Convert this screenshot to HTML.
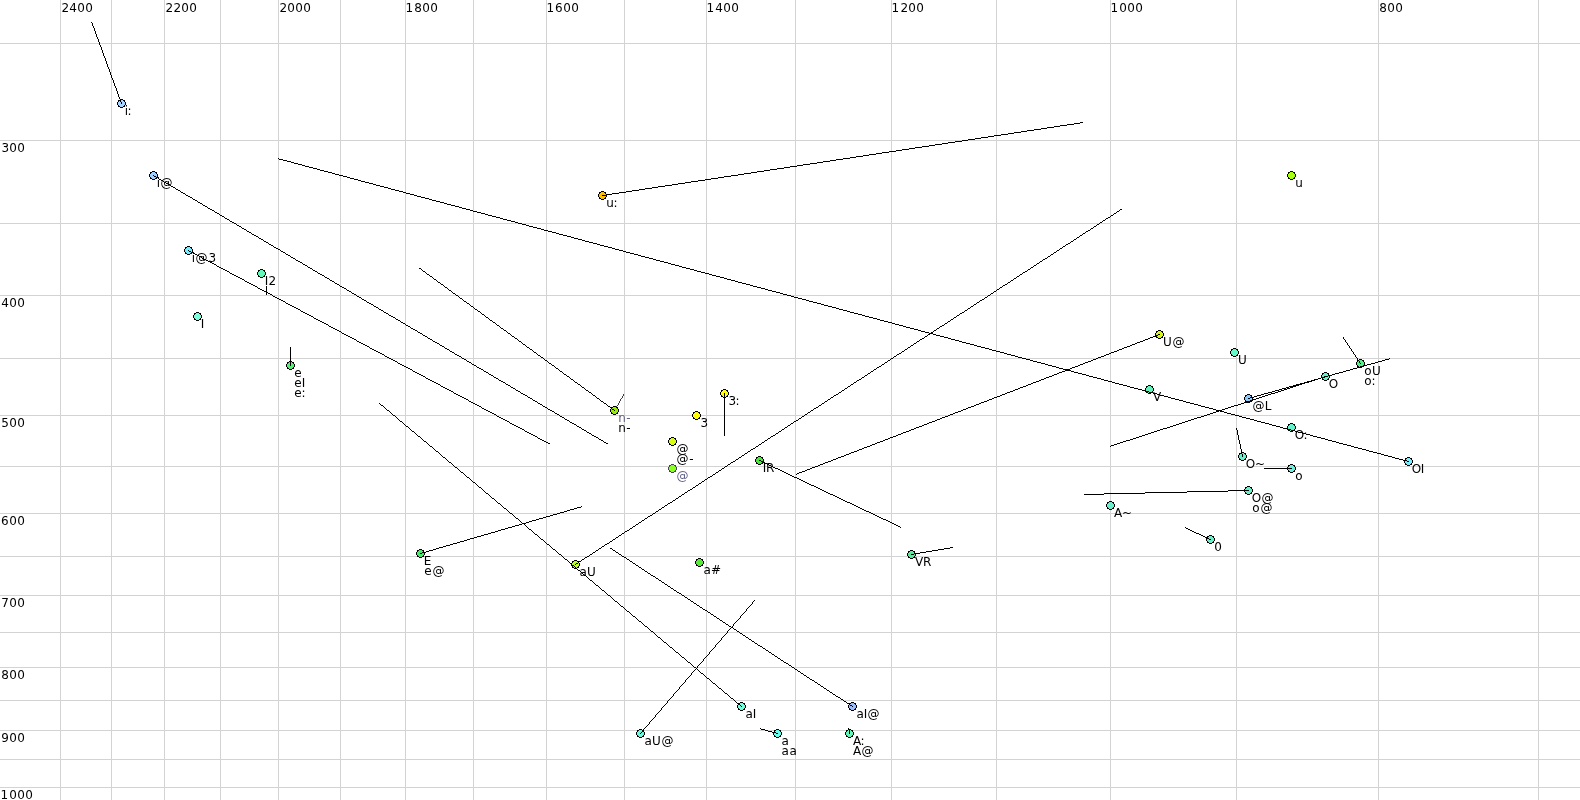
<!DOCTYPE html><html><head><meta charset="utf-8"><title>Vowel chart</title><style>html,body{margin:0;padding:0;background:#fff;overflow:hidden}svg{display:block;will-change:transform}text{font-family:"DejaVu Sans","Liberation Sans",sans-serif;font-size:12px}</style></head><body>
<svg width="1580" height="800" viewBox="0 0 1580 800">
<path shape-rendering="crispEdges" fill="#d3d3d3" d="M60 0h1v800h-1zM111 0h1v800h-1zM164 0h1v800h-1zM220 0h1v800h-1zM278 0h1v800h-1zM340 0h1v800h-1zM405 0h1v800h-1zM473 0h1v800h-1zM546 0h1v800h-1zM624 0h1v800h-1zM706 0h1v800h-1zM795 0h1v800h-1zM891 0h1v800h-1zM996 0h1v800h-1zM1110 0h1v800h-1zM1236 0h1v800h-1zM1378 0h1v800h-1zM1538 0h1v800h-1zM0 43h1580v1h-1580zM0 140h1580v1h-1580zM0 223h1580v1h-1580zM0 295h1580v1h-1580zM0 358h1580v1h-1580zM0 415h1580v1h-1580zM0 466h1580v1h-1580zM0 513h1580v1h-1580zM0 556h1580v1h-1580zM0 595h1580v1h-1580zM0 632h1580v1h-1580zM0 667h1580v1h-1580zM0 700h1580v1h-1580zM0 730h1580v1h-1580zM0 759h1580v1h-1580zM0 787h1580v1h-1580z"/>
<g shape-rendering="crispEdges">
<path fill="#404040" d="M615 409h1v1h-1zM619 401h1v1h-1zM620 399h1v1h-1zM623 394h1v1h-1zM618 404h1v1h-1zM622 397h1v1h-1zM615 408h1v1h-1zM617 405h1v1h-1zM619 402h1v1h-1zM621 398h1v1h-1zM623 395h1v1h-1zM614 410h1v1h-1zM616 407h1v1h-1zM618 403h1v1h-1zM620 400h1v1h-1zM622 396h1v1h-1zM616 406h1v1h-1z"/>
<g transform="translate(117 99)"><path fill="#a8d4ff" d="M3 1h3v1h-3zM2 2h5v1h-5zM1 3h7v3h-7zM2 6h5v1h-5zM3 7h3v1h-3z"/><path fill="#000" d="M3 0h3v1h-3zM1 1h2v1h-2zM6 1h2v1h-2zM1 2h1v1h-1zM7 2h1v1h-1zM0 3h1v3h-1zM8 3h1v3h-1zM1 6h1v1h-1zM7 6h1v1h-1zM1 7h2v1h-2zM6 7h2v1h-2zM3 8h3v1h-3z"/></g>
<g transform="translate(149 171)"><path fill="#a0d0ff" d="M3 1h3v1h-3zM2 2h5v1h-5zM1 3h7v3h-7zM2 6h5v1h-5zM3 7h3v1h-3z"/><path fill="#000" d="M3 0h3v1h-3zM1 1h2v1h-2zM6 1h2v1h-2zM1 2h1v1h-1zM7 2h1v1h-1zM0 3h1v3h-1zM8 3h1v3h-1zM1 6h1v1h-1zM7 6h1v1h-1zM1 7h2v1h-2zM6 7h2v1h-2zM3 8h3v1h-3z"/></g>
<g transform="translate(184 246)"><path fill="#77eeff" d="M3 1h3v1h-3zM2 2h5v1h-5zM1 3h7v3h-7zM2 6h5v1h-5zM3 7h3v1h-3z"/><path fill="#000" d="M3 0h3v1h-3zM1 1h2v1h-2zM6 1h2v1h-2zM1 2h1v1h-1zM7 2h1v1h-1zM0 3h1v3h-1zM8 3h1v3h-1zM1 6h1v1h-1zM7 6h1v1h-1zM1 7h2v1h-2zM6 7h2v1h-2zM3 8h3v1h-3z"/></g>
<g transform="translate(257 269)"><path fill="#66f8bb" d="M3 1h3v1h-3zM2 2h5v1h-5zM1 3h7v3h-7zM2 6h5v1h-5zM3 7h3v1h-3z"/><path fill="#000" d="M3 0h3v1h-3zM1 1h2v1h-2zM6 1h2v1h-2zM1 2h1v1h-1zM7 2h1v1h-1zM0 3h1v3h-1zM8 3h1v3h-1zM1 6h1v1h-1zM7 6h1v1h-1zM1 7h2v1h-2zM6 7h2v1h-2zM3 8h3v1h-3z"/></g>
<g transform="translate(193 312)"><path fill="#77ffdd" d="M3 1h3v1h-3zM2 2h5v1h-5zM1 3h7v3h-7zM2 6h5v1h-5zM3 7h3v1h-3z"/><path fill="#000" d="M3 0h3v1h-3zM1 1h2v1h-2zM6 1h2v1h-2zM1 2h1v1h-1zM7 2h1v1h-1zM0 3h1v3h-1zM8 3h1v3h-1zM1 6h1v1h-1zM7 6h1v1h-1zM1 7h2v1h-2zM6 7h2v1h-2zM3 8h3v1h-3z"/></g>
<g transform="translate(286 361)"><path fill="#55ee77" d="M3 1h3v1h-3zM2 2h5v1h-5zM1 3h7v3h-7zM2 6h5v1h-5zM3 7h3v1h-3z"/><path fill="#000" d="M3 0h3v1h-3zM1 1h2v1h-2zM6 1h2v1h-2zM1 2h1v1h-1zM7 2h1v1h-1zM0 3h1v3h-1zM8 3h1v3h-1zM1 6h1v1h-1zM7 6h1v1h-1zM1 7h2v1h-2zM6 7h2v1h-2zM3 8h3v1h-3z"/></g>
<g transform="translate(598 191)"><path fill="#ffc000" d="M3 1h3v1h-3zM2 2h5v1h-5zM1 3h7v3h-7zM2 6h5v1h-5zM3 7h3v1h-3z"/><path fill="#000" d="M3 0h3v1h-3zM1 1h2v1h-2zM6 1h2v1h-2zM1 2h1v1h-1zM7 2h1v1h-1zM0 3h1v3h-1zM8 3h1v3h-1zM1 6h1v1h-1zM7 6h1v1h-1zM1 7h2v1h-2zM6 7h2v1h-2zM3 8h3v1h-3z"/></g>
<g transform="translate(1287 171)"><path fill="#aaff11" d="M3 1h3v1h-3zM2 2h5v1h-5zM1 3h7v3h-7zM2 6h5v1h-5zM3 7h3v1h-3z"/><path fill="#000" d="M3 0h3v1h-3zM1 1h2v1h-2zM6 1h2v1h-2zM1 2h1v1h-1zM7 2h1v1h-1zM0 3h1v3h-1zM8 3h1v3h-1zM1 6h1v1h-1zM7 6h1v1h-1zM1 7h2v1h-2zM6 7h2v1h-2zM3 8h3v1h-3z"/></g>
<g transform="translate(610 406)"><path fill="#99ee00" d="M3 1h3v1h-3zM2 2h5v1h-5zM1 3h7v3h-7zM2 6h5v1h-5zM3 7h3v1h-3z"/><path fill="#000" d="M3 0h3v1h-3zM1 1h2v1h-2zM6 1h2v1h-2zM1 2h1v1h-1zM7 2h1v1h-1zM0 3h1v3h-1zM8 3h1v3h-1zM1 6h1v1h-1zM7 6h1v1h-1zM1 7h2v1h-2zM6 7h2v1h-2zM3 8h3v1h-3z"/></g>
<g transform="translate(720 389)"><path fill="#ffff00" d="M3 1h3v1h-3zM2 2h5v1h-5zM1 3h7v3h-7zM2 6h5v1h-5zM3 7h3v1h-3z"/><path fill="#000" d="M3 0h3v1h-3zM1 1h2v1h-2zM6 1h2v1h-2zM1 2h1v1h-1zM7 2h1v1h-1zM0 3h1v3h-1zM8 3h1v3h-1zM1 6h1v1h-1zM7 6h1v1h-1zM1 7h2v1h-2zM6 7h2v1h-2zM3 8h3v1h-3z"/></g>
<g transform="translate(692 411)"><path fill="#ffff00" d="M3 1h3v1h-3zM2 2h5v1h-5zM1 3h7v3h-7zM2 6h5v1h-5zM3 7h3v1h-3z"/><path fill="#000" d="M3 0h3v1h-3zM1 1h2v1h-2zM6 1h2v1h-2zM1 2h1v1h-1zM7 2h1v1h-1zM0 3h1v3h-1zM8 3h1v3h-1zM1 6h1v1h-1zM7 6h1v1h-1zM1 7h2v1h-2zM6 7h2v1h-2zM3 8h3v1h-3z"/></g>
<g transform="translate(668 437)"><path fill="#d8ff10" d="M3 1h3v1h-3zM2 2h5v1h-5zM1 3h7v3h-7zM2 6h5v1h-5zM3 7h3v1h-3z"/><path fill="#000" d="M3 0h3v1h-3zM1 1h2v1h-2zM6 1h2v1h-2zM1 2h1v1h-1zM7 2h1v1h-1zM0 3h1v3h-1zM8 3h1v3h-1zM1 6h1v1h-1zM7 6h1v1h-1zM1 7h2v1h-2zM6 7h2v1h-2zM3 8h3v1h-3z"/></g>
<g transform="translate(668 464)"><path fill="#8cff22" d="M3 1h3v1h-3zM2 2h5v1h-5zM1 3h7v3h-7zM2 6h5v1h-5zM3 7h3v1h-3z"/><path fill="#46425a" d="M3 0h3v1h-3zM1 1h2v1h-2zM6 1h2v1h-2zM1 2h1v1h-1zM7 2h1v1h-1zM0 3h1v3h-1zM8 3h1v3h-1zM1 6h1v1h-1zM7 6h1v1h-1zM1 7h2v1h-2zM6 7h2v1h-2zM3 8h3v1h-3z"/></g>
<g transform="translate(755 456)"><path fill="#44ee33" d="M3 1h3v1h-3zM2 2h5v1h-5zM1 3h7v3h-7zM2 6h5v1h-5zM3 7h3v1h-3z"/><path fill="#000" d="M3 0h3v1h-3zM1 1h2v1h-2zM6 1h2v1h-2zM1 2h1v1h-1zM7 2h1v1h-1zM0 3h1v3h-1zM8 3h1v3h-1zM1 6h1v1h-1zM7 6h1v1h-1zM1 7h2v1h-2zM6 7h2v1h-2zM3 8h3v1h-3z"/></g>
<g transform="translate(416 549)"><path fill="#44ee66" d="M3 1h3v1h-3zM2 2h5v1h-5zM1 3h7v3h-7zM2 6h5v1h-5zM3 7h3v1h-3z"/><path fill="#000" d="M3 0h3v1h-3zM1 1h2v1h-2zM6 1h2v1h-2zM1 2h1v1h-1zM7 2h1v1h-1zM0 3h1v3h-1zM8 3h1v3h-1zM1 6h1v1h-1zM7 6h1v1h-1zM1 7h2v1h-2zM6 7h2v1h-2zM3 8h3v1h-3z"/></g>
<g transform="translate(571 560)"><path fill="#bbff22" d="M3 1h3v1h-3zM2 2h5v1h-5zM1 3h7v3h-7zM2 6h5v1h-5zM3 7h3v1h-3z"/><path fill="#000" d="M3 0h3v1h-3zM1 1h2v1h-2zM6 1h2v1h-2zM1 2h1v1h-1zM7 2h1v1h-1zM0 3h1v3h-1zM8 3h1v3h-1zM1 6h1v1h-1zM7 6h1v1h-1zM1 7h2v1h-2zM6 7h2v1h-2zM3 8h3v1h-3z"/></g>
<g transform="translate(695 558)"><path fill="#55ee33" d="M3 1h3v1h-3zM2 2h5v1h-5zM1 3h7v3h-7zM2 6h5v1h-5zM3 7h3v1h-3z"/><path fill="#000" d="M3 0h3v1h-3zM1 1h2v1h-2zM6 1h2v1h-2zM1 2h1v1h-1zM7 2h1v1h-1zM0 3h1v3h-1zM8 3h1v3h-1zM1 6h1v1h-1zM7 6h1v1h-1zM1 7h2v1h-2zM6 7h2v1h-2zM3 8h3v1h-3z"/></g>
<g transform="translate(907 550)"><path fill="#55ee99" d="M3 1h3v1h-3zM2 2h5v1h-5zM1 3h7v3h-7zM2 6h5v1h-5zM3 7h3v1h-3z"/><path fill="#000" d="M3 0h3v1h-3zM1 1h2v1h-2zM6 1h2v1h-2zM1 2h1v1h-1zM7 2h1v1h-1zM0 3h1v3h-1zM8 3h1v3h-1zM1 6h1v1h-1zM7 6h1v1h-1zM1 7h2v1h-2zM6 7h2v1h-2zM3 8h3v1h-3z"/></g>
<g transform="translate(737 702)"><path fill="#6effdd" d="M3 1h3v1h-3zM2 2h5v1h-5zM1 3h7v3h-7zM2 6h5v1h-5zM3 7h3v1h-3z"/><path fill="#000" d="M3 0h3v1h-3zM1 1h2v1h-2zM6 1h2v1h-2zM1 2h1v1h-1zM7 2h1v1h-1zM0 3h1v3h-1zM8 3h1v3h-1zM1 6h1v1h-1zM7 6h1v1h-1zM1 7h2v1h-2zM6 7h2v1h-2zM3 8h3v1h-3z"/></g>
<g transform="translate(848 702)"><path fill="#99bbff" d="M3 1h3v1h-3zM2 2h5v1h-5zM1 3h7v3h-7zM2 6h5v1h-5zM3 7h3v1h-3z"/><path fill="#000" d="M3 0h3v1h-3zM1 1h2v1h-2zM6 1h2v1h-2zM1 2h1v1h-1zM7 2h1v1h-1zM0 3h1v3h-1zM8 3h1v3h-1zM1 6h1v1h-1zM7 6h1v1h-1zM1 7h2v1h-2zM6 7h2v1h-2zM3 8h3v1h-3z"/></g>
<g transform="translate(636 729)"><path fill="#6cf8dd" d="M3 1h3v1h-3zM2 2h5v1h-5zM1 3h7v3h-7zM2 6h5v1h-5zM3 7h3v1h-3z"/><path fill="#000" d="M3 0h3v1h-3zM1 1h2v1h-2zM6 1h2v1h-2zM1 2h1v1h-1zM7 2h1v1h-1zM0 3h1v3h-1zM8 3h1v3h-1zM1 6h1v1h-1zM7 6h1v1h-1zM1 7h2v1h-2zM6 7h2v1h-2zM3 8h3v1h-3z"/></g>
<g transform="translate(773 729)"><path fill="#6cffee" d="M3 1h3v1h-3zM2 2h5v1h-5zM1 3h7v3h-7zM2 6h5v1h-5zM3 7h3v1h-3z"/><path fill="#000" d="M3 0h3v1h-3zM1 1h2v1h-2zM6 1h2v1h-2zM1 2h1v1h-1zM7 2h1v1h-1zM0 3h1v3h-1zM8 3h1v3h-1zM1 6h1v1h-1zM7 6h1v1h-1zM1 7h2v1h-2zM6 7h2v1h-2zM3 8h3v1h-3z"/></g>
<g transform="translate(845 729)"><path fill="#66f4b8" d="M3 1h3v1h-3zM2 2h5v1h-5zM1 3h7v3h-7zM2 6h5v1h-5zM3 7h3v1h-3z"/><path fill="#000" d="M3 0h3v1h-3zM1 1h2v1h-2zM6 1h2v1h-2zM1 2h1v1h-1zM7 2h1v1h-1zM0 3h1v3h-1zM8 3h1v3h-1zM1 6h1v1h-1zM7 6h1v1h-1zM1 7h2v1h-2zM6 7h2v1h-2zM3 8h3v1h-3z"/></g>
<g transform="translate(1155 330)"><path fill="#ddf810" d="M3 1h3v1h-3zM2 2h5v1h-5zM1 3h7v3h-7zM2 6h5v1h-5zM3 7h3v1h-3z"/><path fill="#000" d="M3 0h3v1h-3zM1 1h2v1h-2zM6 1h2v1h-2zM1 2h1v1h-1zM7 2h1v1h-1zM0 3h1v3h-1zM8 3h1v3h-1zM1 6h1v1h-1zM7 6h1v1h-1zM1 7h2v1h-2zM6 7h2v1h-2zM3 8h3v1h-3z"/></g>
<g transform="translate(1230 348)"><path fill="#66f8c8" d="M3 1h3v1h-3zM2 2h5v1h-5zM1 3h7v3h-7zM2 6h5v1h-5zM3 7h3v1h-3z"/><path fill="#000" d="M3 0h3v1h-3zM1 1h2v1h-2zM6 1h2v1h-2zM1 2h1v1h-1zM7 2h1v1h-1zM0 3h1v3h-1zM8 3h1v3h-1zM1 6h1v1h-1zM7 6h1v1h-1zM1 7h2v1h-2zM6 7h2v1h-2zM3 8h3v1h-3z"/></g>
<g transform="translate(1145 385)"><path fill="#66f0bb" d="M3 1h3v1h-3zM2 2h5v1h-5zM1 3h7v3h-7zM2 6h5v1h-5zM3 7h3v1h-3z"/><path fill="#000" d="M3 0h3v1h-3zM1 1h2v1h-2zM6 1h2v1h-2zM1 2h1v1h-1zM7 2h1v1h-1zM0 3h1v3h-1zM8 3h1v3h-1zM1 6h1v1h-1zM7 6h1v1h-1zM1 7h2v1h-2zM6 7h2v1h-2zM3 8h3v1h-3z"/></g>
<g transform="translate(1244 394)"><path fill="#88ccff" d="M3 1h3v1h-3zM2 2h5v1h-5zM1 3h7v3h-7zM2 6h5v1h-5zM3 7h3v1h-3z"/><path fill="#000" d="M3 0h3v1h-3zM1 1h2v1h-2zM6 1h2v1h-2zM1 2h1v1h-1zM7 2h1v1h-1zM0 3h1v3h-1zM8 3h1v3h-1zM1 6h1v1h-1zM7 6h1v1h-1zM1 7h2v1h-2zM6 7h2v1h-2zM3 8h3v1h-3z"/></g>
<g transform="translate(1321 372)"><path fill="#66f0cc" d="M3 1h3v1h-3zM2 2h5v1h-5zM1 3h7v3h-7zM2 6h5v1h-5zM3 7h3v1h-3z"/><path fill="#000" d="M3 0h3v1h-3zM1 1h2v1h-2zM6 1h2v1h-2zM1 2h1v1h-1zM7 2h1v1h-1zM0 3h1v3h-1zM8 3h1v3h-1zM1 6h1v1h-1zM7 6h1v1h-1zM1 7h2v1h-2zM6 7h2v1h-2zM3 8h3v1h-3z"/></g>
<g transform="translate(1356 359)"><path fill="#55ee88" d="M3 1h3v1h-3zM2 2h5v1h-5zM1 3h7v3h-7zM2 6h5v1h-5zM3 7h3v1h-3z"/><path fill="#000" d="M3 0h3v1h-3zM1 1h2v1h-2zM6 1h2v1h-2zM1 2h1v1h-1zM7 2h1v1h-1zM0 3h1v3h-1zM8 3h1v3h-1zM1 6h1v1h-1zM7 6h1v1h-1zM1 7h2v1h-2zM6 7h2v1h-2zM3 8h3v1h-3z"/></g>
<g transform="translate(1287 423)"><path fill="#66f0cc" d="M3 1h3v1h-3zM2 2h5v1h-5zM1 3h7v3h-7zM2 6h5v1h-5zM3 7h3v1h-3z"/><path fill="#000" d="M3 0h3v1h-3zM1 1h2v1h-2zM6 1h2v1h-2zM1 2h1v1h-1zM7 2h1v1h-1zM0 3h1v3h-1zM8 3h1v3h-1zM1 6h1v1h-1zM7 6h1v1h-1zM1 7h2v1h-2zM6 7h2v1h-2zM3 8h3v1h-3z"/></g>
<g transform="translate(1404 457)"><path fill="#77eeff" d="M3 1h3v1h-3zM2 2h5v1h-5zM1 3h7v3h-7zM2 6h5v1h-5zM3 7h3v1h-3z"/><path fill="#000" d="M3 0h3v1h-3zM1 1h2v1h-2zM6 1h2v1h-2zM1 2h1v1h-1zM7 2h1v1h-1zM0 3h1v3h-1zM8 3h1v3h-1zM1 6h1v1h-1zM7 6h1v1h-1zM1 7h2v1h-2zM6 7h2v1h-2zM3 8h3v1h-3z"/></g>
<g transform="translate(1238 452)"><path fill="#66f0cc" d="M3 1h3v1h-3zM2 2h5v1h-5zM1 3h7v3h-7zM2 6h5v1h-5zM3 7h3v1h-3z"/><path fill="#000" d="M3 0h3v1h-3zM1 1h2v1h-2zM6 1h2v1h-2zM1 2h1v1h-1zM7 2h1v1h-1zM0 3h1v3h-1zM8 3h1v3h-1zM1 6h1v1h-1zM7 6h1v1h-1zM1 7h2v1h-2zM6 7h2v1h-2zM3 8h3v1h-3z"/></g>
<g transform="translate(1287 464)"><path fill="#66f0dd" d="M3 1h3v1h-3zM2 2h5v1h-5zM1 3h7v3h-7zM2 6h5v1h-5zM3 7h3v1h-3z"/><path fill="#000" d="M3 0h3v1h-3zM1 1h2v1h-2zM6 1h2v1h-2zM1 2h1v1h-1zM7 2h1v1h-1zM0 3h1v3h-1zM8 3h1v3h-1zM1 6h1v1h-1zM7 6h1v1h-1zM1 7h2v1h-2zM6 7h2v1h-2zM3 8h3v1h-3z"/></g>
<g transform="translate(1106 501)"><path fill="#66f0cc" d="M3 1h3v1h-3zM2 2h5v1h-5zM1 3h7v3h-7zM2 6h5v1h-5zM3 7h3v1h-3z"/><path fill="#000" d="M3 0h3v1h-3zM1 1h2v1h-2zM6 1h2v1h-2zM1 2h1v1h-1zM7 2h1v1h-1zM0 3h1v3h-1zM8 3h1v3h-1zM1 6h1v1h-1zM7 6h1v1h-1zM1 7h2v1h-2zM6 7h2v1h-2zM3 8h3v1h-3z"/></g>
<g transform="translate(1244 486)"><path fill="#66f0cc" d="M3 1h3v1h-3zM2 2h5v1h-5zM1 3h7v3h-7zM2 6h5v1h-5zM3 7h3v1h-3z"/><path fill="#000" d="M3 0h3v1h-3zM1 1h2v1h-2zM6 1h2v1h-2zM1 2h1v1h-1zM7 2h1v1h-1zM0 3h1v3h-1zM8 3h1v3h-1zM1 6h1v1h-1zM7 6h1v1h-1zM1 7h2v1h-2zM6 7h2v1h-2zM3 8h3v1h-3z"/></g>
<g transform="translate(1206 535)"><path fill="#66f0cc" d="M3 1h3v1h-3zM2 2h5v1h-5zM1 3h7v3h-7zM2 6h5v1h-5zM3 7h3v1h-3z"/><path fill="#000" d="M3 0h3v1h-3zM1 1h2v1h-2zM6 1h2v1h-2zM1 2h1v1h-1zM7 2h1v1h-1zM0 3h1v3h-1zM8 3h1v3h-1zM1 6h1v1h-1zM7 6h1v1h-1zM1 7h2v1h-2zM6 7h2v1h-2zM3 8h3v1h-3z"/></g>
<path fill="#000" d="M118 95h1v1h-1zM115 87h1v1h-1zM121 103h1v1h-1zM92 24h1v1h-1zM97 38h1v1h-1zM103 54h1v1h-1zM94 30h1v1h-1zM100 46h1v1h-1zM98 39h1v1h-1zM111 76h1v1h-1zM117 92h1v1h-1zM108 68h1v1h-1zM119 98h1v1h-1zM106 61h1v1h-1zM96 35h1v1h-1zM98 41h1v1h-1zM120 99h1v1h-1zM104 57h1v1h-1zM106 63h1v1h-1zM112 79h1v1h-1zM102 50h1v1h-1zM99 42h1v1h-1zM105 58h1v1h-1zM110 72h1v1h-1zM101 48h1v1h-1zM91 22h1v1h-1zM120 101h1v1h-1zM116 88h1v1h-1zM113 80h1v1h-1zM118 94h1v1h-1zM102 52h1v1h-1zM115 86h1v1h-1zM99 44h1v1h-1zM105 60h1v1h-1zM110 74h1v1h-1zM95 31h1v1h-1zM92 23h1v1h-1zM97 37h1v1h-1zM103 53h1v1h-1zM116 90h1v1h-1zM113 82h1v1h-1zM118 96h1v1h-1zM109 69h1v1h-1zM114 83h1v1h-1zM111 75h1v1h-1zM117 91h1v1h-1zM95 33h1v1h-1zM92 25h1v1h-1zM103 55h1v1h-1zM93 26h1v1h-1zM96 34h1v1h-1zM109 71h1v1h-1zM114 85h1v1h-1zM111 77h1v1h-1zM117 93h1v1h-1zM107 64h1v1h-1zM104 56h1v1h-1zM121 102h1v1h-1zM107 66h1v1h-1zM94 29h1v1h-1zM100 45h1v1h-1zM102 51h1v1h-1zM108 67h1v1h-1zM119 97h1v1h-1zM116 89h1v1h-1zM98 40h1v1h-1zM95 32h1v1h-1zM106 62h1v1h-1zM112 78h1v1h-1zM96 36h1v1h-1zM109 70h1v1h-1zM114 84h1v1h-1zM101 47h1v1h-1zM93 27h1v1h-1zM120 100h1v1h-1zM99 43h1v1h-1zM105 59h1v1h-1zM110 73h1v1h-1zM101 49h1v1h-1zM107 65h1v1h-1zM94 28h1v1h-1zM113 81h1v1h-1zM256 236h2v1h-2zM543 406h2v1h-2zM185 194h1v1h-1zM472 364h2v1h-2zM401 322h2v1h-2zM330 280h2v1h-2zM259 238h2v1h-2zM188 196h2v1h-2zM579 427h2v1h-2zM508 385h2v1h-2zM437 343h2v1h-2zM430 339h2v1h-2zM359 297h2v1h-2zM252 234h2v1h-2zM288 255h2v1h-2zM181 192h2v1h-2zM217 213h2v1h-2zM581 428h1v1h-1zM510 386h1v1h-1zM439 344h1v1h-1zM367 302h2v1h-2zM296 260h2v1h-2zM225 218h2v1h-2zM154 176h2v1h-2zM572 423h2v1h-2zM501 381h2v1h-2zM565 419h2v1h-2zM494 377h2v1h-2zM423 335h2v1h-2zM352 293h2v1h-2zM576 425h1v1h-1zM281 251h2v1h-2zM505 383h1v1h-1zM210 209h2v1h-2zM433 341h2v1h-2zM362 299h2v1h-2zM291 257h2v1h-2zM538 403h2v1h-2zM220 215h2v1h-2zM467 361h2v1h-2zM396 319h2v1h-2zM325 277h2v1h-2zM254 235h2v1h-2zM183 193h2v1h-2zM569 421h1v1h-1zM498 379h1v1h-1zM427 337h1v1h-1zM356 295h1v1h-1zM285 253h1v1h-1zM214 211h1v1h-1zM606 443h2v1h-2zM535 401h2v1h-2zM464 359h2v1h-2zM393 317h2v1h-2zM322 275h2v1h-2zM251 233h1v1h-1zM180 191h1v1h-1zM384 312h2v1h-2zM313 270h2v1h-2zM242 228h2v1h-2zM171 186h2v1h-2zM173 187h2v1h-2zM389 315h2v1h-2zM318 273h2v1h-2zM247 231h2v1h-2zM176 189h2v1h-2zM594 436h2v1h-2zM523 394h2v1h-2zM452 352h2v1h-2zM381 310h2v1h-2zM310 268h2v1h-2zM239 226h2v1h-2zM168 184h2v1h-2zM567 420h2v1h-2zM496 378h2v1h-2zM425 336h2v1h-2zM354 294h2v1h-2zM283 252h2v1h-2zM212 210h2v1h-2zM205 206h2v1h-2zM598 438h1v1h-1zM527 396h1v1h-1zM455 354h2v1h-2zM560 416h2v1h-2zM489 374h2v1h-2zM418 332h2v1h-2zM164 182h2v1h-2zM347 290h2v1h-2zM276 248h2v1h-2zM340 286h2v1h-2zM564 418h1v1h-1zM269 244h2v1h-2zM493 376h1v1h-1zM198 202h2v1h-2zM422 334h1v1h-1zM351 292h1v1h-1zM280 250h1v1h-1zM208 208h2v1h-2zM557 414h2v1h-2zM486 372h2v1h-2zM415 330h2v1h-2zM344 288h2v1h-2zM273 246h1v1h-1zM202 204h1v1h-1zM601 440h2v1h-2zM530 398h2v1h-2zM459 356h2v1h-2zM552 411h2v1h-2zM596 437h2v1h-2zM525 395h2v1h-2zM411 328h2v1h-2zM159 179h2v1h-2zM589 433h2v1h-2zM518 391h2v1h-2zM582 429h2v1h-2zM447 349h2v1h-2zM511 387h2v1h-2zM376 307h2v1h-2zM440 345h2v1h-2zM305 265h2v1h-2zM369 303h2v1h-2zM234 223h2v1h-2zM298 261h2v1h-2zM227 219h2v1h-2zM156 177h2v1h-2zM555 413h2v1h-2zM484 371h2v1h-2zM413 329h2v1h-2zM342 287h2v1h-2zM271 245h2v1h-2zM200 203h2v1h-2zM586 431h1v1h-1zM515 389h1v1h-1zM444 347h1v1h-1zM373 305h1v1h-1zM302 263h1v1h-1zM230 221h2v1h-2zM477 367h2v1h-2zM406 325h2v1h-2zM335 283h2v1h-2zM264 241h2v1h-2zM193 199h2v1h-2zM481 369h2v1h-2zM545 407h2v1h-2zM474 365h2v1h-2zM403 323h2v1h-2zM332 281h2v1h-2zM261 239h2v1h-2zM190 197h2v1h-2zM540 404h2v1h-2zM469 362h2v1h-2zM398 320h2v1h-2zM584 430h2v1h-2zM513 388h2v1h-2zM442 346h2v1h-2zM371 304h2v1h-2zM300 262h2v1h-2zM186 195h2v1h-2zM577 426h2v1h-2zM506 384h2v1h-2zM570 422h2v1h-2zM435 342h2v1h-2zM499 380h2v1h-2zM364 300h2v1h-2zM428 338h2v1h-2zM293 258h2v1h-2zM357 296h2v1h-2zM222 216h2v1h-2zM286 254h2v1h-2zM215 212h2v1h-2zM574 424h2v1h-2zM503 382h2v1h-2zM432 340h1v1h-1zM361 298h1v1h-1zM290 256h1v1h-1zM219 214h1v1h-1zM324 276h1v1h-1zM603 441h1v1h-1zM532 399h1v1h-1zM461 357h1v1h-1zM604 442h2v1h-2zM533 400h2v1h-2zM462 358h2v1h-2zM327 278h2v1h-2zM391 316h2v1h-2zM320 274h2v1h-2zM249 232h2v1h-2zM178 190h2v1h-2zM599 439h2v1h-2zM528 397h2v1h-2zM457 355h2v1h-2zM386 313h2v1h-2zM315 271h2v1h-2zM244 229h2v1h-2zM274 247h2v1h-2zM203 205h2v1h-2zM562 417h2v1h-2zM491 375h2v1h-2zM420 333h2v1h-2zM349 291h2v1h-2zM278 249h2v1h-2zM207 207h1v1h-1zM170 185h1v1h-1zM520 392h1v1h-1zM449 350h1v1h-1zM378 308h1v1h-1zM307 266h1v1h-1zM236 224h1v1h-1zM592 435h2v1h-2zM521 393h2v1h-2zM450 351h2v1h-2zM379 309h2v1h-2zM308 267h2v1h-2zM237 225h2v1h-2zM166 183h2v1h-2zM587 432h2v1h-2zM516 390h2v1h-2zM445 348h2v1h-2zM374 306h2v1h-2zM303 264h2v1h-2zM232 222h2v1h-2zM161 180h2v1h-2zM591 434h1v1h-1zM554 412h1v1h-1zM483 370h1v1h-1zM548 409h2v1h-2zM550 410h2v1h-2zM479 368h2v1h-2zM408 326h2v1h-2zM337 284h2v1h-2zM266 242h2v1h-2zM195 200h2v1h-2zM295 259h1v1h-1zM224 217h1v1h-1zM153 175h1v1h-1zM366 301h1v1h-1zM542 405h1v1h-1zM471 363h1v1h-1zM400 321h1v1h-1zM329 279h1v1h-1zM258 237h1v1h-1zM537 402h1v1h-1zM466 360h1v1h-1zM395 318h1v1h-1zM388 314h1v1h-1zM317 272h1v1h-1zM246 230h1v1h-1zM175 188h1v1h-1zM454 353h1v1h-1zM383 311h1v1h-1zM312 269h1v1h-1zM241 227h1v1h-1zM559 415h1v1h-1zM488 373h1v1h-1zM417 331h1v1h-1zM346 289h1v1h-1zM410 327h1v1h-1zM339 285h1v1h-1zM268 243h1v1h-1zM197 201h1v1h-1zM163 181h1v1h-1zM229 220h1v1h-1zM158 178h1v1h-1zM547 408h1v1h-1zM476 366h1v1h-1zM405 324h1v1h-1zM334 282h1v1h-1zM263 240h1v1h-1zM192 198h1v1h-1zM490 412h2v1h-2zM305 313h2v1h-2zM298 309h2v1h-2zM501 418h2v1h-2zM247 282h2v1h-2zM432 381h2v1h-2zM238 277h2v1h-2zM434 382h2v1h-2zM426 378h2v1h-2zM242 279h2v1h-2zM486 410h2v1h-2zM301 311h2v1h-2zM436 383h2v1h-2zM428 379h2v1h-2zM234 275h2v1h-2zM227 271h2v1h-2zM361 343h2v1h-2zM482 408h2v1h-2zM548 443h2v1h-2zM415 372h2v1h-2zM230 273h2v1h-2zM223 269h2v1h-2zM365 345h2v1h-2zM357 341h2v1h-2zM350 337h2v1h-2zM492 413h2v1h-2zM410 369h2v1h-2zM484 409h2v1h-2zM402 365h2v1h-2zM544 441h2v1h-2zM290 305h2v1h-2zM537 437h1v1h-1zM546 442h2v1h-2zM538 438h2v1h-2zM354 339h2v1h-2zM477 405h2v1h-2zM488 411h2v1h-2zM406 367h2v1h-2zM540 439h2v1h-2zM286 303h2v1h-2zM533 435h2v1h-2zM279 299h2v1h-2zM421 375h2v1h-2zM339 331h2v1h-2zM413 371h2v1h-2zM331 327h2v1h-2zM473 403h2v1h-2zM466 399h2v1h-2zM283 301h2v1h-2zM275 297h2v1h-2zM214 264h2v1h-2zM417 373h2v1h-2zM335 329h2v1h-2zM469 401h2v1h-2zM216 265h1v1h-1zM462 397h2v1h-2zM208 261h2v1h-2zM454 393h2v1h-2zM268 293h2v1h-2zM342 333h2v1h-2zM260 289h2v1h-2zM395 361h2v1h-2zM210 262h2v1h-2zM202 258h2v1h-2zM337 330h2v1h-2zM212 263h2v1h-2zM458 395h2v1h-2zM204 259h2v1h-2zM389 358h2v1h-2zM346 335h2v1h-2zM264 291h2v1h-2zM398 363h2v1h-2zM391 359h2v1h-2zM525 431h2v1h-2zM518 427h2v1h-2zM189 251h2v1h-2zM333 328h2v1h-2zM393 360h2v1h-2zM520 428h2v1h-2zM266 292h2v1h-2zM387 357h2v1h-2zM326 324h2v1h-2zM318 320h2v1h-2zM522 429h2v1h-2zM193 253h2v1h-2zM514 425h2v1h-2zM320 321h2v1h-2zM505 420h2v1h-2zM447 389h2v1h-2zM270 294h2v1h-2zM262 290h2v1h-2zM255 286h2v1h-2zM499 417h2v1h-2zM322 322h2v1h-2zM314 318h2v1h-2zM307 314h2v1h-2zM510 423h2v1h-2zM449 390h2v1h-2zM195 254h2v1h-2zM441 386h2v1h-2zM316 319h2v1h-2zM494 414h2v1h-2zM451 391h2v1h-2zM443 387h2v1h-2zM258 288h2v1h-2zM382 354h2v1h-2zM503 419h2v1h-2zM199 256h2v1h-2zM445 388h2v1h-2zM191 252h2v1h-2zM438 384h2v1h-2zM251 284h2v1h-2zM497 416h2v1h-2zM244 280h1v1h-1zM236 276h2v1h-2zM378 352h2v1h-2zM370 348h2v1h-2zM430 380h2v1h-2zM423 376h2v1h-2zM188 250h1v1h-1zM240 278h2v1h-2zM232 274h2v1h-2zM374 350h2v1h-2zM367 346h2v1h-2zM359 342h2v1h-2zM419 374h2v1h-2zM300 310h1v1h-1zM352 338h2v1h-2zM363 344h2v1h-2zM294 307h2v1h-2zM303 312h2v1h-2zM296 308h2v1h-2zM542 440h2v1h-2zM288 304h2v1h-2zM356 340h1v1h-1zM348 336h2v1h-2zM475 404h2v1h-2zM281 300h2v1h-2zM292 306h2v1h-2zM344 334h2v1h-2zM479 406h2v1h-2zM225 270h2v1h-2zM471 402h2v1h-2zM217 266h2v1h-2zM285 302h1v1h-1zM277 298h2v1h-2zM412 370h1v1h-1zM404 366h2v1h-2zM219 267h2v1h-2zM221 268h2v1h-2zM527 432h2v1h-2zM273 296h2v1h-2zM408 368h2v1h-2zM400 364h2v1h-2zM535 436h2v1h-2zM385 356h2v1h-2zM529 433h2v1h-2zM456 394h2v1h-2zM531 434h2v1h-2zM329 326h2v1h-2zM197 255h2v1h-2zM272 295h1v1h-1zM516 426h2v1h-2zM324 323h2v1h-2zM460 396h2v1h-2zM512 424h2v1h-2zM328 325h1v1h-1zM201 257h1v1h-1zM507 421h2v1h-2zM253 285h2v1h-2zM440 385h1v1h-1zM257 287h1v1h-1zM249 283h2v1h-2zM384 355h1v1h-1zM376 351h2v1h-2zM245 281h2v1h-2zM369 347h1v1h-1zM380 353h2v1h-2zM372 349h2v1h-2zM311 316h2v1h-2zM313 317h1v1h-1zM309 315h2v1h-2zM496 415h1v1h-1zM229 272h1v1h-1zM481 407h1v1h-1zM425 377h1v1h-1zM206 260h2v1h-2zM341 332h1v1h-1zM468 400h1v1h-1zM464 398h2v1h-2zM524 430h1v1h-1zM397 362h1v1h-1zM453 392h1v1h-1zM509 422h1v1h-1zM266 294h1v1h-1zM266 287h1v1h-1zM266 293h1v1h-1zM266 290h1v1h-1zM266 286h1v1h-1zM266 289h1v1h-1zM266 292h1v1h-1zM266 291h1v1h-1zM266 288h1v1h-1zM290 347h1v1h-1zM290 350h1v1h-1zM290 353h1v1h-1zM290 359h1v1h-1zM290 356h1v1h-1zM290 362h1v1h-1zM290 365h1v1h-1zM290 352h1v1h-1zM290 349h1v1h-1zM290 355h1v1h-1zM290 358h1v1h-1zM290 364h1v1h-1zM290 361h1v1h-1zM290 348h1v1h-1zM290 354h1v1h-1zM290 351h1v1h-1zM290 357h1v1h-1zM290 360h1v1h-1zM290 363h1v1h-1zM563 235h4v1h-4zM1171 398h4v1h-4zM313 168h4v1h-4zM373 184h3v1h-3zM974 345h3v1h-3zM716 276h4v1h-4zM944 337h4v1h-4zM466 209h4v1h-4zM1317 437h4v1h-4zM1059 368h4v1h-4zM1287 429h4v1h-4zM809 301h4v1h-4zM488 215h4v1h-4zM544 230h4v1h-4zM1153 393h4v1h-4zM604 246h4v1h-4zM832 307h4v1h-4zM287 161h4v1h-4zM354 179h4v1h-4zM948 338h3v1h-3zM1175 399h4v1h-4zM697 271h4v1h-4zM925 332h4v1h-4zM1291 430h4v1h-4zM440 202h4v1h-4zM1041 363h4v1h-4zM1269 424h3v1h-3zM720 277h4v1h-4zM403 192h3v1h-3zM1384 455h4v1h-4zM1063 369h4v1h-4zM518 223h4v1h-4zM585 241h4v1h-4zM813 302h4v1h-4zM1194 404h4v1h-4zM328 172h4v1h-4zM929 333h4v1h-4zM1157 394h3v1h-3zM1407 461h2v1h-2zM291 162h3v1h-3zM899 325h4v1h-4zM421 197h4v1h-4zM1272 425h4v1h-4zM951 339h4v1h-4zM634 254h4v1h-4zM1242 417h4v1h-4zM384 187h4v1h-4zM765 289h3v1h-3zM444 203h3v1h-3zM1045 364h3v1h-3zM1108 381h4v1h-4zM559 234h4v1h-4zM787 295h4v1h-4zM309 167h4v1h-4zM537 228h4v1h-4zM1388 456h4v1h-4zM1130 387h4v1h-4zM653 259h3v1h-3zM880 320h4v1h-4zM615 249h4v1h-4zM996 351h4v1h-4zM1224 412h3v1h-3zM675 265h4v1h-4zM358 180h3v1h-3zM425 198h4v1h-4zM1339 443h4v1h-4zM1018 357h4v1h-4zM541 229h3v1h-3zM768 290h4v1h-4zM1362 449h4v1h-4zM511 221h4v1h-4zM884 321h4v1h-4zM1112 382h3v1h-3zM1227 413h4v1h-4zM906 327h4v1h-4zM589 242h4v1h-4zM656 260h4v1h-4zM339 175h4v1h-4zM1265 423h4v1h-4zM399 191h4v1h-4zM1000 352h4v1h-4zM970 344h4v1h-4zM492 216h4v1h-4zM1343 444h4v1h-4zM705 273h4v1h-4zM1313 436h4v1h-4zM836 308h3v1h-3zM515 222h3v1h-3zM1179 400h4v1h-4zM630 253h4v1h-4zM858 314h4v1h-4zM380 186h4v1h-4zM608 247h4v1h-4zM1201 406h4v1h-4zM724 278h3v1h-3zM686 268h4v1h-4zM1067 370h4v1h-4zM1295 431h3v1h-3zM746 284h4v1h-4zM429 199h3v1h-3zM496 217h4v1h-4zM1160 395h4v1h-4zM1089 376h4v1h-4zM612 248h3v1h-3zM839 309h4v1h-4zM294 163h4v1h-4zM1220 411h4v1h-4zM955 340h4v1h-4zM1183 401h3v1h-3zM317 169h3v1h-3zM1298 432h4v1h-4zM447 204h4v1h-4zM1048 365h4v1h-4zM977 346h4v1h-4zM660 261h4v1h-4zM727 279h4v1h-4zM791 296h3v1h-3zM1392 457h3v1h-3zM470 210h3v1h-3zM1071 371h3v1h-3zM1134 388h4v1h-4zM335 174h4v1h-4zM298 164h4v1h-4zM679 266h3v1h-3zM641 256h4v1h-4zM1022 358h4v1h-4zM1250 419h4v1h-4zM701 272h4v1h-4zM451 205h4v1h-4zM567 236h4v1h-4zM794 297h4v1h-4zM910 328h4v1h-4zM1138 389h4v1h-4zM1231 414h4v1h-4zM682 267h4v1h-4zM1026 359h4v1h-4zM548 231h4v1h-4zM1369 451h4v1h-4zM1119 384h4v1h-4zM731 280h4v1h-4zM862 315h3v1h-3zM1205 407h4v1h-4zM406 193h4v1h-4zM369 183h4v1h-4zM750 285h3v1h-3zM500 218h3v1h-3zM712 275h4v1h-4zM1093 377h4v1h-4zM843 310h4v1h-4zM772 291h4v1h-4zM1321 438h4v1h-4zM522 224h4v1h-4zM1186 402h4v1h-4zM638 255h3v1h-3zM865 316h4v1h-4zM1246 418h4v1h-4zM981 347h4v1h-4zM1209 408h4v1h-4zM343 176h4v1h-4zM410 194h4v1h-4zM473 211h4v1h-4zM1074 372h4v1h-4zM1302 433h4v1h-4zM753 286h4v1h-4zM817 303h4v1h-4zM1097 378h4v1h-4zM619 250h4v1h-4zM361 181h4v1h-4zM962 342h4v1h-4zM1190 403h4v1h-4zM324 171h4v1h-4zM455 206h4v1h-4zM933 334h3v1h-3zM1276 426h4v1h-4zM477 212h4v1h-4zM593 243h4v1h-4zM821 304h3v1h-3zM571 237h3v1h-3zM936 335h4v1h-4zM1164 396h4v1h-4zM914 329h4v1h-4zM365 182h4v1h-4zM1257 421h4v1h-4zM709 274h3v1h-3zM1052 366h4v1h-4zM574 238h4v1h-4zM802 299h4v1h-4zM414 195h3v1h-3zM1395 458h4v1h-4zM1145 391h4v1h-4zM279 159h4v1h-4zM888 322h4v1h-4zM690 269h4v1h-4zM432 200h4v1h-4zM1033 361h4v1h-4zM395 190h4v1h-4zM776 292h4v1h-4zM526 225h3v1h-3zM1004 353h3v1h-3zM738 282h4v1h-4zM1347 445h4v1h-4zM869 317h4v1h-4zM320 170h4v1h-4zM1213 409h3v1h-3zM664 262h4v1h-4zM892 323h3v1h-3zM1007 354h4v1h-4zM1235 415h4v1h-4zM757 287h4v1h-4zM985 348h4v1h-4zM436 201h4v1h-4zM1101 379h3v1h-3zM780 293h3v1h-3zM302 165h3v1h-3zM1123 385h4v1h-4zM645 257h4v1h-4zM873 318h4v1h-4zM1254 420h3v1h-3zM388 188h3v1h-3zM1216 410h4v1h-4zM350 178h4v1h-4zM959 341h3v1h-3zM761 288h4v1h-4zM503 219h4v1h-4zM1104 380h4v1h-4zM847 311h3v1h-3zM597 244h3v1h-3zM940 336h4v1h-4zM391 189h4v1h-4zM735 281h3v1h-3zM485 214h3v1h-3zM1078 373h4v1h-4zM600 245h4v1h-4zM828 306h4v1h-4zM305 166h4v1h-4zM1325 439h3v1h-3zM459 207h3v1h-3zM1030 360h3v1h-3zM552 232h4v1h-4zM895 324h4v1h-4zM347 177h3v1h-3zM1306 434h4v1h-4zM918 330h3v1h-3zM668 263h3v1h-3zM1328 440h4v1h-4zM783 294h4v1h-4zM1011 355h4v1h-4zM462 208h4v1h-4zM1127 386h3v1h-3zM877 319h3v1h-3zM806 300h3v1h-3zM556 233h3v1h-3zM1149 392h4v1h-4zM671 264h4v1h-4zM1280 427h3v1h-3zM1373 452h4v1h-4zM376 185h4v1h-4zM529 226h4v1h-4zM1261 422h4v1h-4zM623 251h3v1h-3zM1283 428h4v1h-4zM966 343h4v1h-4zM417 196h4v1h-4zM1377 453h4v1h-4zM283 160h4v1h-4zM854 313h4v1h-4zM1198 405h3v1h-3zM742 283h4v1h-4zM1351 446h3v1h-3zM578 239h4v1h-4zM1239 416h3v1h-3zM921 331h4v1h-4zM989 349h3v1h-3zM1332 441h4v1h-4zM694 270h3v1h-3zM1354 447h4v1h-4zM1037 362h4v1h-4zM903 326h3v1h-3zM582 240h3v1h-3zM1336 442h3v1h-3zM1399 459h4v1h-4zM649 258h4v1h-4zM1381 454h3v1h-3zM1310 435h3v1h-3zM992 350h4v1h-4zM1403 460h4v1h-4zM1015 356h3v1h-3zM1358 448h4v1h-4zM1082 374h4v1h-4zM332 173h3v1h-3zM1086 375h3v1h-3zM1366 450h3v1h-3zM1115 383h4v1h-4zM481 213h4v1h-4zM824 305h4v1h-4zM798 298h4v1h-4zM1142 390h3v1h-3zM507 220h4v1h-4zM850 312h4v1h-4zM1168 397h3v1h-3zM1056 367h3v1h-3zM533 227h4v1h-4zM626 252h4v1h-4zM278 158h1v1h-1zM658 186h7v1h-7zM757 171h7v1h-7zM1014 132h7v1h-7zM850 157h6v1h-6zM948 142h7v1h-7zM606 194h6v1h-6zM1060 125h7v1h-7zM797 165h6v1h-6zM988 136h6v1h-6zM652 187h6v1h-6zM632 190h7v1h-7zM744 173h7v1h-7zM678 183h7v1h-7zM935 144h7v1h-7zM602 195h4v1h-4zM770 169h7v1h-7zM882 152h7v1h-7zM1074 123h6v1h-6zM718 177h6v1h-6zM922 146h7v1h-7zM1021 131h6v1h-6zM645 188h7v1h-7zM665 185h7v1h-7zM856 156h7v1h-7zM777 168h7v1h-7zM869 154h7v1h-7zM705 179h6v1h-6zM803 164h7v1h-7zM994 135h7v1h-7zM915 147h7v1h-7zM639 189h6v1h-6zM942 143h6v1h-6zM863 155h6v1h-6zM955 141h7v1h-7zM790 166h7v1h-7zM724 176h7v1h-7zM981 137h7v1h-7zM738 174h6v1h-6zM929 145h6v1h-6zM784 167h6v1h-6zM764 170h6v1h-6zM711 178h7v1h-7zM810 163h7v1h-7zM968 139h7v1h-7zM1067 124h7v1h-7zM731 175h7v1h-7zM902 149h7v1h-7zM1041 128h6v1h-6zM1054 126h6v1h-6zM1001 134h7v1h-7zM836 159h7v1h-7zM1047 127h7v1h-7zM975 138h6v1h-6zM619 192h7v1h-7zM830 160h6v1h-6zM962 140h6v1h-6zM843 158h7v1h-7zM691 181h7v1h-7zM698 180h7v1h-7zM626 191h6v1h-6zM685 182h6v1h-6zM823 161h7v1h-7zM751 172h6v1h-6zM889 151h7v1h-7zM1027 130h7v1h-7zM672 184h6v1h-6zM896 150h6v1h-6zM1034 129h7v1h-7zM817 162h6v1h-6zM612 193h7v1h-7zM1080 122h3v1h-3zM1008 133h6v1h-6zM876 153h6v1h-6zM909 148h6v1h-6zM556 368h2v1h-2zM582 387h2v1h-2zM608 406h2v1h-2zM440 283h1v1h-1zM466 302h1v1h-1zM492 321h1v1h-1zM518 340h1v1h-1zM473 307h1v1h-1zM499 326h1v1h-1zM525 345h1v1h-1zM551 364h1v1h-1zM591 393h1v1h-1zM506 331h1v1h-1zM532 350h1v1h-1zM448 289h1v1h-1zM474 308h1v1h-1zM500 327h1v1h-1zM526 346h1v1h-1zM527 347h2v1h-2zM425 272h1v1h-1zM451 291h1v1h-1zM597 398h2v1h-2zM481 313h1v1h-1zM507 332h1v1h-1zM533 351h1v1h-1zM559 370h1v1h-1zM585 389h1v1h-1zM432 277h1v1h-1zM540 356h1v1h-1zM566 375h1v1h-1zM592 394h1v1h-1zM423 271h2v1h-2zM449 290h2v1h-2zM475 309h2v1h-2zM493 322h2v1h-2zM519 341h2v1h-2zM573 380h1v1h-1zM599 399h1v1h-1zM515 338h2v1h-2zM541 357h2v1h-2zM567 376h2v1h-2zM593 395h2v1h-2zM548 362h1v1h-1zM574 381h1v1h-1zM419 268h2v1h-2zM445 287h2v1h-2zM471 306h2v1h-2zM600 400h1v1h-1zM434 279h2v1h-2zM460 298h2v1h-2zM478 311h2v1h-2zM504 330h2v1h-2zM530 349h2v1h-2zM607 405h1v1h-1zM490 320h2v1h-2zM560 371h2v1h-2zM586 390h2v1h-2zM612 409h2v1h-2zM441 284h2v1h-2zM467 303h2v1h-2zM523 344h2v1h-2zM549 363h2v1h-2zM421 269h1v1h-1zM447 288h1v1h-1zM575 382h2v1h-2zM601 401h2v1h-2zM427 274h2v1h-2zM453 293h2v1h-2zM480 312h1v1h-1zM501 328h2v1h-2zM545 360h2v1h-2zM571 379h2v1h-2zM429 275h1v1h-1zM455 294h1v1h-1zM486 317h2v1h-2zM512 336h2v1h-2zM538 355h2v1h-2zM456 295h2v1h-2zM482 314h2v1h-2zM508 333h2v1h-2zM534 352h2v1h-2zM552 365h2v1h-2zM578 384h2v1h-2zM604 403h2v1h-2zM436 280h1v1h-1zM462 299h1v1h-1zM488 318h1v1h-1zM514 337h1v1h-1zM438 282h2v1h-2zM495 323h1v1h-1zM469 304h1v1h-1zM521 342h1v1h-1zM547 361h1v1h-1zM430 276h2v1h-2zM577 383h1v1h-1zM603 402h1v1h-1zM522 343h1v1h-1zM554 366h1v1h-1zM580 385h1v1h-1zM606 404h1v1h-1zM477 310h1v1h-1zM503 329h1v1h-1zM529 348h1v1h-1zM555 367h1v1h-1zM581 386h1v1h-1zM536 353h1v1h-1zM562 372h1v1h-1zM588 391h1v1h-1zM614 410h1v1h-1zM497 325h2v1h-2zM422 270h1v1h-1zM569 377h1v1h-1zM595 396h1v1h-1zM452 292h1v1h-1zM511 335h1v1h-1zM537 354h1v1h-1zM563 373h1v1h-1zM589 392h2v1h-2zM544 359h1v1h-1zM570 378h1v1h-1zM564 374h2v1h-2zM596 397h1v1h-1zM437 281h1v1h-1zM463 300h1v1h-1zM489 319h1v1h-1zM443 285h1v1h-1zM444 286h1v1h-1zM470 305h1v1h-1zM496 324h1v1h-1zM558 369h1v1h-1zM584 388h1v1h-1zM610 407h1v1h-1zM464 301h2v1h-2zM611 408h1v1h-1zM458 296h1v1h-1zM484 315h1v1h-1zM510 334h1v1h-1zM517 339h1v1h-1zM543 358h1v1h-1zM426 273h1v1h-1zM433 278h1v1h-1zM459 297h1v1h-1zM485 316h1v1h-1zM724 393h1v1h-1zM724 399h1v1h-1zM724 402h1v1h-1zM724 408h1v1h-1zM724 405h1v1h-1zM724 411h1v1h-1zM724 414h1v1h-1zM724 420h1v1h-1zM724 417h1v1h-1zM724 423h1v1h-1zM724 429h1v1h-1zM724 426h1v1h-1zM724 432h1v1h-1zM724 435h1v1h-1zM724 395h1v1h-1zM724 401h1v1h-1zM724 398h1v1h-1zM724 404h1v1h-1zM724 410h1v1h-1zM724 407h1v1h-1zM724 413h1v1h-1zM724 416h1v1h-1zM724 422h1v1h-1zM724 419h1v1h-1zM724 425h1v1h-1zM724 428h1v1h-1zM724 434h1v1h-1zM724 431h1v1h-1zM724 394h1v1h-1zM724 397h1v1h-1zM724 403h1v1h-1zM724 400h1v1h-1zM724 406h1v1h-1zM724 409h1v1h-1zM724 415h1v1h-1zM724 412h1v1h-1zM724 418h1v1h-1zM724 421h1v1h-1zM724 427h1v1h-1zM724 424h1v1h-1zM724 430h1v1h-1zM724 433h1v1h-1zM724 396h1v1h-1zM841 499h2v1h-2zM833 495h2v1h-2zM778 469h2v1h-2zM881 518h2v1h-2zM873 514h2v1h-2zM811 485h3v1h-3zM896 525h2v1h-2zM803 481h2v1h-2zM794 477h3v1h-3zM875 515h2v1h-2zM835 496h2v1h-2zM866 511h3v1h-3zM858 507h2v1h-2zM765 463h2v1h-2zM788 474h2v1h-2zM883 519h3v1h-3zM837 497h2v1h-2zM828 493h2v1h-2zM820 489h2v1h-2zM852 504h2v1h-2zM869 512h2v1h-2zM892 523h2v1h-2zM845 501h2v1h-2zM799 479h2v1h-2zM790 475h2v1h-2zM822 490h2v1h-2zM782 471h2v1h-2zM814 486h2v1h-2zM759 460h2v1h-2zM862 509h2v1h-2zM854 505h2v1h-2zM761 461h2v1h-2zM792 476h2v1h-2zM784 472h2v1h-2zM775 468h3v1h-3zM879 517h2v1h-2zM871 513h2v1h-2zM824 491h2v1h-2zM856 506h2v1h-2zM816 487h2v1h-2zM847 502h3v1h-3zM839 498h2v1h-2zM769 465h2v1h-2zM888 521h2v1h-2zM786 473h2v1h-2zM864 510h2v1h-2zM818 488h2v1h-2zM809 484h2v1h-2zM801 480h2v1h-2zM850 503h2v1h-2zM826 492h2v1h-2zM780 470h2v1h-2zM771 466h2v1h-2zM763 462h2v1h-2zM898 526h2v1h-2zM890 522h2v1h-2zM843 500h2v1h-2zM773 467h2v1h-2zM860 508h2v1h-2zM805 482h2v1h-2zM797 478h2v1h-2zM830 494h3v1h-3zM767 464h2v1h-2zM894 524h2v1h-2zM900 527h1v1h-1zM886 520h2v1h-2zM807 483h2v1h-2zM877 516h2v1h-2zM536 519h3v1h-3zM464 540h3v1h-3zM577 507h4v1h-4zM446 545h4v1h-4zM557 513h3v1h-3zM422 552h4v1h-4zM539 518h4v1h-4zM515 525h4v1h-4zM420 553h2v1h-2zM495 531h3v1h-3zM512 526h3v1h-3zM474 537h3v1h-3zM488 533h3v1h-3zM470 538h4v1h-4zM546 516h4v1h-4zM429 550h4v1h-4zM567 510h3v1h-3zM433 549h3v1h-3zM498 530h3v1h-3zM543 517h3v1h-3zM426 551h3v1h-3zM526 522h3v1h-3zM501 529h4v1h-4zM519 524h3v1h-3zM484 534h4v1h-4zM477 536h4v1h-4zM522 523h4v1h-4zM553 514h4v1h-4zM570 509h4v1h-4zM481 535h3v1h-3zM436 548h3v1h-3zM460 541h4v1h-4zM574 508h3v1h-3zM439 547h4v1h-4zM550 515h3v1h-3zM532 520h4v1h-4zM529 521h3v1h-3zM491 532h4v1h-4zM505 528h3v1h-3zM450 544h3v1h-3zM560 512h4v1h-4zM467 539h3v1h-3zM443 546h3v1h-3zM453 543h4v1h-4zM457 542h3v1h-3zM564 511h3v1h-3zM508 527h4v1h-4zM581 506h1v1h-1zM630 528h2v1h-2zM619 535h2v1h-2zM1094 226h2v1h-2zM642 520h2v1h-2zM816 407h2v1h-2zM913 344h1v1h-1zM1086 231h2v1h-2zM635 525h1v1h-1zM808 412h2v1h-2zM905 349h2v1h-2zM1079 236h1v1h-1zM627 530h2v1h-2zM897 354h2v1h-2zM925 336h2v1h-2zM1099 223h1v1h-1zM917 341h2v1h-2zM1091 228h2v1h-2zM699 483h2v1h-2zM692 488h1v1h-1zM865 375h2v1h-2zM1114 213h2v1h-2zM684 493h1v1h-1zM885 362h2v1h-2zM704 480h1v1h-1zM877 367h2v1h-2zM696 485h2v1h-2zM997 289h2v1h-2zM716 472h2v1h-2zM990 294h1v1h-1zM708 477h2v1h-2zM982 299h2v1h-2zM1010 281h1v1h-1zM728 464h2v1h-2zM1002 286h1v1h-1zM994 291h2v1h-2zM1022 273h1v1h-1zM776 433h2v1h-2zM765 440h2v1h-2zM1014 278h2v1h-2zM768 438h2v1h-2zM796 420h2v1h-2zM788 425h2v1h-2zM962 312h2v1h-2zM781 430h1v1h-1zM801 417h1v1h-1zM974 304h2v1h-2zM1071 241h2v1h-2zM793 422h1v1h-1zM1063 246h2v1h-2zM1083 233h2v1h-2zM587 556h2v1h-2zM857 380h2v1h-2zM1106 218h2v1h-2zM579 561h2v1h-2zM850 385h1v1h-1zM870 372h1v1h-1zM1119 210h1v1h-1zM688 490h2v1h-2zM862 377h2v1h-2zM854 382h2v1h-2zM882 364h2v1h-2zM636 524h2v1h-2zM874 369h2v1h-2zM629 529h1v1h-1zM656 511h2v1h-2zM648 516h2v1h-2zM641 521h1v1h-1zM668 503h2v1h-2zM942 325h2v1h-2zM661 508h1v1h-1zM934 330h2v1h-2zM653 513h2v1h-2zM954 317h2v1h-2zM673 500h2v1h-2zM773 435h2v1h-2zM947 322h1v1h-1zM967 309h1v1h-1zM785 427h2v1h-2zM959 314h1v1h-1zM979 301h1v1h-1zM733 461h2v1h-2zM971 306h2v1h-2zM753 448h2v1h-2zM745 453h2v1h-2zM1016 277h1v1h-1zM738 458h1v1h-1zM1008 282h2v1h-2zM1028 269h2v1h-2zM1031 267h2v1h-2zM576 563h2v1h-2zM1020 274h2v1h-2zM802 416h2v1h-2zM1051 254h2v1h-2zM794 421h2v1h-2zM1043 259h2v1h-2zM814 408h2v1h-2zM633 526h2v1h-2zM807 413h1v1h-1zM1108 217h2v1h-2zM625 531h2v1h-2zM1100 222h2v1h-2zM645 518h2v1h-2zM1120 209h2v1h-2zM593 552h2v1h-2zM939 327h1v1h-1zM1113 214h1v1h-1zM931 332h2v1h-2zM951 319h2v1h-2zM1117 211h2v1h-2zM698 484h1v1h-1zM725 466h2v1h-2zM899 353h2v1h-2zM718 471h1v1h-1zM891 358h2v1h-2zM710 476h2v1h-2zM911 345h2v1h-2zM730 463h1v1h-1zM904 350h1v1h-1zM722 468h2v1h-2zM924 337h1v1h-1zM742 455h2v1h-2zM916 342h1v1h-1zM690 489h2v1h-2zM1036 264h1v1h-1zM799 418h2v1h-2zM1048 256h2v1h-2zM791 423h2v1h-2zM1040 261h2v1h-2zM822 403h2v1h-2zM811 410h2v1h-2zM988 295h2v1h-2zM585 557h2v1h-2zM834 395h2v1h-2zM1105 219h1v1h-1zM578 562h1v1h-1zM827 400h1v1h-1zM1097 224h2v1h-2zM598 549h1v1h-1zM819 405h2v1h-2zM1045 258h2v1h-2zM590 554h2v1h-2zM582 559h2v1h-2zM613 539h2v1h-2zM884 363h1v1h-1zM1057 250h2v1h-2zM605 544h2v1h-2zM702 481h2v1h-2zM876 368h1v1h-1zM896 355h1v1h-1zM1070 242h1v1h-1zM888 360h2v1h-2zM670 502h2v1h-2zM908 347h2v1h-2zM662 507h2v1h-2zM682 494h2v1h-2zM675 499h1v1h-1zM667 504h1v1h-1zM695 486h1v1h-1zM968 308h2v1h-2zM687 491h1v1h-1zM957 315h2v1h-2zM960 313h2v1h-2zM679 496h2v1h-2zM980 300h2v1h-2zM973 305h1v1h-1zM744 454h1v1h-1zM993 292h1v1h-1zM736 459h2v1h-2zM985 297h2v1h-2zM759 444h2v1h-2zM779 431h2v1h-2zM1050 255h1v1h-1zM771 436h2v1h-2zM868 373h2v1h-2zM1042 260h1v1h-1zM764 441h1v1h-1zM1034 265h2v1h-2zM1062 247h1v1h-1zM1054 252h2v1h-2zM836 394h2v1h-2zM1074 239h2v1h-2zM655 512h1v1h-1zM828 399h2v1h-2zM1077 237h2v1h-2zM1066 244h2v1h-2zM647 517h1v1h-1zM821 404h1v1h-1zM848 386h2v1h-2zM639 522h2v1h-2zM841 391h1v1h-1zM659 509h2v1h-2zM833 396h1v1h-1zM861 378h1v1h-1zM853 383h1v1h-1zM607 543h2v1h-2zM845 388h2v1h-2zM965 310h2v1h-2zM632 527h1v1h-1zM977 302h2v1h-2zM751 449h2v1h-2zM945 323h2v1h-2zM937 328h2v1h-2zM756 446h2v1h-2zM930 333h1v1h-1zM748 451h2v1h-2zM813 409h1v1h-1zM987 296h1v1h-1zM805 414h2v1h-2zM825 401h2v1h-2zM999 288h1v1h-1zM599 548h2v1h-2zM592 553h1v1h-1zM1111 215h2v1h-2zM584 558h1v1h-1zM612 540h1v1h-1zM1030 268h1v1h-1zM1103 220h2v1h-2zM604 545h1v1h-1zM596 550h2v1h-2zM624 532h1v1h-1zM616 537h2v1h-2zM890 359h1v1h-1zM910 346h1v1h-1zM902 351h2v1h-2zM922 338h2v1h-2zM1096 225h1v1h-1zM676 498h2v1h-2zM665 505h2v1h-2zM914 343h2v1h-2zM701 482h1v1h-1zM693 487h2v1h-2zM721 469h1v1h-1zM991 293h2v1h-2zM1003 285h2v1h-2zM758 445h1v1h-1zM1007 283h1v1h-1zM750 450h1v1h-1zM778 432h1v1h-1zM770 437h1v1h-1zM1019 275h1v1h-1zM762 442h2v1h-2zM790 424h1v1h-1zM1011 280h2v1h-2zM782 429h2v1h-2zM1056 251h1v1h-1zM1076 238h1v1h-1zM894 356h2v1h-2zM1068 243h2v1h-2zM1088 230h2v1h-2zM842 390h2v1h-2zM1080 235h2v1h-2zM681 495h1v1h-1zM847 387h1v1h-1zM867 374h1v1h-1zM685 492h2v1h-2zM859 379h2v1h-2zM887 361h1v1h-1zM879 366h2v1h-2zM871 371h2v1h-2zM928 334h2v1h-2zM944 324h1v1h-1zM715 473h1v1h-1zM964 311h1v1h-1zM1060 248h2v1h-2zM1000 287h2v1h-2zM719 470h2v1h-2zM839 392h2v1h-2zM1013 279h1v1h-1zM831 397h2v1h-2zM1033 266h1v1h-1zM851 384h2v1h-2zM1025 271h2v1h-2zM1037 263h2v1h-2zM618 536h1v1h-1zM610 541h2v1h-2zM638 523h1v1h-1zM622 533h2v1h-2zM650 515h2v1h-2zM824 402h1v1h-1zM920 339h2v1h-2zM936 329h1v1h-1zM1110 216h1v1h-1zM707 478h1v1h-1zM948 321h2v1h-2zM940 326h2v1h-2zM735 460h1v1h-1zM1005 284h2v1h-2zM727 465h1v1h-1zM1017 276h2v1h-2zM784 428h1v1h-1zM602 546h2v1h-2zM804 415h1v1h-1zM1090 229h1v1h-1zM1082 234h1v1h-1zM1102 221h1v1h-1zM575 564h1v1h-1zM595 551h1v1h-1zM881 365h1v1h-1zM873 370h1v1h-1zM901 352h1v1h-1zM644 519h1v1h-1zM893 357h1v1h-1zM950 320h1v1h-1zM672 501h1v1h-1zM970 307h1v1h-1zM741 456h1v1h-1zM761 443h1v1h-1zM1027 270h1v1h-1zM1047 257h1v1h-1zM1039 262h1v1h-1zM1059 249h1v1h-1zM652 514h1v1h-1zM1116 212h1v1h-1zM664 506h1v1h-1zM838 393h1v1h-1zM713 474h2v1h-2zM705 479h2v1h-2zM907 348h1v1h-1zM1023 272h2v1h-2zM798 419h1v1h-1zM818 406h1v1h-1zM810 411h1v1h-1zM830 398h1v1h-1zM589 555h1v1h-1zM609 542h1v1h-1zM601 547h1v1h-1zM621 534h1v1h-1zM658 510h1v1h-1zM678 497h1v1h-1zM927 335h1v1h-1zM919 340h1v1h-1zM956 316h1v1h-1zM984 298h1v1h-1zM976 303h1v1h-1zM996 290h1v1h-1zM581 560h1v1h-1zM755 447h1v1h-1zM775 434h1v1h-1zM767 439h1v1h-1zM787 426h1v1h-1zM1053 253h1v1h-1zM1073 240h1v1h-1zM1065 245h1v1h-1zM1093 227h1v1h-1zM1085 232h1v1h-1zM615 538h1v1h-1zM864 376h1v1h-1zM747 452h1v1h-1zM739 457h2v1h-2zM731 462h2v1h-2zM933 331h1v1h-1zM953 318h1v1h-1zM712 475h1v1h-1zM724 467h1v1h-1zM844 389h1v1h-1zM856 381h1v1h-1zM424 441h2v1h-2zM617 602h1v1h-1zM627 611h2v1h-2zM688 662h2v1h-2zM580 571h1v1h-1zM699 671h1v1h-1zM701 673h2v1h-2zM713 683h2v1h-2zM516 518h2v1h-2zM446 459h1v1h-1zM457 468h1v1h-1zM409 428h1v1h-1zM528 528h1v1h-1zM531 530h1v1h-1zM458 469h1v1h-1zM650 630h1v1h-1zM541 539h2v1h-2zM602 590h2v1h-2zM661 639h1v1h-1zM613 599h1v1h-1zM590 580h2v1h-2zM543 540h1v1h-1zM735 701h1v1h-1zM662 640h1v1h-1zM553 549h2v1h-2zM698 670h1v1h-1zM527 527h1v1h-1zM418 436h2v1h-2zM479 487h2v1h-2zM490 496h1v1h-1zM442 456h1v1h-1zM420 437h1v1h-1zM430 446h2v1h-2zM564 558h1v1h-1zM491 497h1v1h-1zM383 406h1v1h-1zM623 607h1v1h-1zM575 567h1v1h-1zM694 667h2v1h-2zM504 508h2v1h-2zM624 608h1v1h-1zM576 568h1v1h-1zM467 477h2v1h-2zM660 638h1v1h-1zM587 577h1v1h-1zM731 698h2v1h-2zM709 679h1v1h-1zM719 688h2v1h-2zM672 648h1v1h-1zM393 415h2v1h-2zM452 464h1v1h-1zM404 424h1v1h-1zM381 405h2v1h-2zM453 465h1v1h-1zM405 425h1v1h-1zM416 434h1v1h-1zM608 595h2v1h-2zM586 576h1v1h-1zM538 536h1v1h-1zM657 636h1v1h-1zM549 545h1v1h-1zM693 666h1v1h-1zM670 647h2v1h-2zM598 586h1v1h-1zM633 616h2v1h-2zM705 676h1v1h-1zM682 657h2v1h-2zM635 617h1v1h-1zM415 433h1v1h-1zM486 493h2v1h-2zM500 504h1v1h-1zM427 443h1v1h-1zM619 604h1v1h-1zM510 513h2v1h-2zM571 564h1v1h-1zM582 573h1v1h-1zM501 505h1v1h-1zM512 514h1v1h-1zM704 675h1v1h-1zM464 474h1v1h-1zM522 523h2v1h-2zM656 635h1v1h-1zM715 684h1v1h-1zM667 644h1v1h-1zM596 585h2v1h-2zM716 685h1v1h-1zM448 461h1v1h-1zM400 421h2v1h-2zM533 532h1v1h-1zM485 492h1v1h-1zM544 541h1v1h-1zM615 601h2v1h-2zM463 473h1v1h-1zM473 482h2v1h-2zM534 533h1v1h-1zM426 442h1v1h-1zM545 542h1v1h-1zM737 703h2v1h-2zM629 612h1v1h-1zM678 653h1v1h-1zM630 613h1v1h-1zM641 622h1v1h-1zM559 554h2v1h-2zM411 430h1v1h-1zM385 408h1v1h-1zM577 569h1v1h-1zM496 501h1v1h-1zM387 410h2v1h-2zM507 510h1v1h-1zM459 470h1v1h-1zM651 631h2v1h-2zM578 570h2v1h-2zM436 451h2v1h-2zM389 411h1v1h-1zM581 572h1v1h-1zM508 511h1v1h-1zM639 621h2v1h-2zM700 672h1v1h-1zM592 581h1v1h-1zM711 681h1v1h-1zM663 641h1v1h-1zM674 650h1v1h-1zM593 582h1v1h-1zM676 652h2v1h-2zM604 591h1v1h-1zM725 693h2v1h-2zM469 478h1v1h-1zM529 529h2v1h-2zM421 438h1v1h-1zM540 538h1v1h-1zM492 498h2v1h-2zM470 479h1v1h-1zM422 439h1v1h-1zM481 488h1v1h-1zM614 600h1v1h-1zM673 649h1v1h-1zM625 609h1v1h-1zM555 550h1v1h-1zM565 559h2v1h-2zM626 610h1v1h-1zM518 519h1v1h-1zM710 680h1v1h-1zM406 426h2v1h-2zM722 690h1v1h-1zM443 457h2v1h-2zM502 506h1v1h-1zM454 466h1v1h-1zM432 447h1v1h-1zM384 407h1v1h-1zM503 507h1v1h-1zM395 416h1v1h-1zM455 467h2v1h-2zM539 537h1v1h-1zM658 637h2v1h-2zM636 618h1v1h-1zM588 578h1v1h-1zM707 678h2v1h-2zM599 587h1v1h-1zM551 547h1v1h-1zM721 689h1v1h-1zM684 658h1v1h-1zM733 699h1v1h-1zM465 475h1v1h-1zM417 435h1v1h-1zM428 444h1v1h-1zM620 605h1v1h-1zM550 546h1v1h-1zM477 485h1v1h-1zM669 646h1v1h-1zM561 555h1v1h-1zM621 606h2v1h-2zM513 515h1v1h-1zM632 615h1v1h-1zM584 575h2v1h-2zM562 556h1v1h-1zM645 626h2v1h-2zM572 565h2v1h-2zM706 677h1v1h-1zM717 686h1v1h-1zM647 627h1v1h-1zM449 462h2v1h-2zM379 403h1v1h-1zM498 503h2v1h-2zM390 412h1v1h-1zM461 472h2v1h-2zM380 404h1v1h-1zM391 413h1v1h-1zM583 574h1v1h-1zM475 483h1v1h-1zM535 534h2v1h-2zM594 583h1v1h-1zM524 524h1v1h-1zM476 484h1v1h-1zM668 645h1v1h-1zM595 584h1v1h-1zM679 654h1v1h-1zM728 695h1v1h-1zM680 655h1v1h-1zM691 664h1v1h-1zM412 431h2v1h-2zM423 440h1v1h-1zM497 502h1v1h-1zM546 543h1v1h-1zM438 452h1v1h-1zM557 552h1v1h-1zM509 512h1v1h-1zM520 521h1v1h-1zM712 682h1v1h-1zM439 453h1v1h-1zM631 614h1v1h-1zM690 663h1v1h-1zM642 623h1v1h-1zM653 632h1v1h-1zM724 692h1v1h-1zM643 624h1v1h-1zM727 694h1v1h-1zM739 704h1v1h-1zM386 409h1v1h-1zM460 471h1v1h-1zM519 520h1v1h-1zM471 480h1v1h-1zM472 481h1v1h-1zM664 642h2v1h-2zM556 551h1v1h-1zM675 651h1v1h-1zM686 660h1v1h-1zM605 592h1v1h-1zM568 561h1v1h-1zM433 448h1v1h-1zM552 548h1v1h-1zM482 489h1v1h-1zM434 449h1v1h-1zM445 458h1v1h-1zM637 619h1v1h-1zM397 418h1v1h-1zM589 579h1v1h-1zM648 628h1v1h-1zM567 560h1v1h-1zM638 620h1v1h-1zM649 629h1v1h-1zM601 589h1v1h-1zM723 691h1v1h-1zM734 700h1v1h-1zM466 476h1v1h-1zM396 417h1v1h-1zM515 517h1v1h-1zM478 486h1v1h-1zM408 427h1v1h-1zM600 588h1v1h-1zM611 597h1v1h-1zM563 557h1v1h-1zM685 659h1v1h-1zM612 598h1v1h-1zM696 668h1v1h-1zM697 669h1v1h-1zM429 445h1v1h-1zM440 454h1v1h-1zM514 516h1v1h-1zM441 455h1v1h-1zM525 525h1v1h-1zM644 625h1v1h-1zM574 566h1v1h-1zM526 526h1v1h-1zM718 687h1v1h-1zM610 596h1v1h-1zM537 535h1v1h-1zM729 696h1v1h-1zM730 697h1v1h-1zM741 706h1v1h-1zM402 422h1v1h-1zM392 414h1v1h-1zM403 423h1v1h-1zM547 544h2v1h-2zM558 553h1v1h-1zM488 494h1v1h-1zM607 594h1v1h-1zM570 563h1v1h-1zM489 495h1v1h-1zM681 656h1v1h-1zM740 705h1v1h-1zM692 665h1v1h-1zM703 674h1v1h-1zM435 450h1v1h-1zM569 562h1v1h-1zM521 522h1v1h-1zM532 531h1v1h-1zM451 463h1v1h-1zM414 432h1v1h-1zM654 633h1v1h-1zM606 593h1v1h-1zM736 702h1v1h-1zM655 634h1v1h-1zM666 643h1v1h-1zM618 603h1v1h-1zM398 419h1v1h-1zM399 420h1v1h-1zM483 490h1v1h-1zM410 429h1v1h-1zM494 499h1v1h-1zM506 509h1v1h-1zM484 491h1v1h-1zM495 500h1v1h-1zM687 661h1v1h-1zM447 460h1v1h-1zM658 579h1v1h-1zM711 614h2v1h-2zM728 625h1v1h-1zM781 660h2v1h-2zM707 611h1v1h-1zM734 629h2v1h-2zM788 664h1v1h-1zM645 571h2v1h-2zM807 677h2v1h-2zM665 584h2v1h-2zM719 619h1v1h-1zM836 696h2v1h-2zM694 603h2v1h-2zM810 679h2v1h-2zM775 656h2v1h-2zM795 669h2v1h-2zM653 576h2v1h-2zM647 572h1v1h-1zM700 607h2v1h-2zM771 653h1v1h-1zM824 688h2v1h-2zM723 622h2v1h-2zM777 657h1v1h-1zM635 564h1v1h-1zM688 599h2v1h-2zM830 692h2v1h-2zM708 612h2v1h-2zM762 647h1v1h-1zM619 554h2v1h-2zM850 705h2v1h-2zM668 586h2v1h-2zM642 569h2v1h-2zM696 604h1v1h-1zM749 639h2v1h-2zM784 662h2v1h-2zM818 684h2v1h-2zM838 697h2v1h-2zM745 636h1v1h-1zM798 671h2v1h-2zM656 578h2v1h-2zM757 644h1v1h-1zM697 605h2v1h-2zM751 640h1v1h-1zM804 675h2v1h-2zM662 582h2v1h-2zM682 595h2v1h-2zM827 690h2v1h-2zM685 597h2v1h-2zM739 632h1v1h-1zM792 667h2v1h-2zM758 645h2v1h-2zM616 552h2v1h-2zM670 587h1v1h-1zM812 680h2v1h-2zM622 556h2v1h-2zM841 699h2v1h-2zM746 637h2v1h-2zM800 672h1v1h-1zM794 668h1v1h-1zM651 575h2v1h-2zM705 610h2v1h-2zM671 588h2v1h-2zM847 703h2v1h-2zM636 565h2v1h-2zM610 548h2v1h-2zM849 704h1v1h-1zM760 646h2v1h-2zM801 673h2v1h-2zM659 580h2v1h-2zM713 615h1v1h-1zM766 650h2v1h-2zM624 557h2v1h-2zM786 663h2v1h-2zM644 570h1v1h-1zM815 682h2v1h-2zM789 665h2v1h-2zM843 700h1v1h-1zM720 620h2v1h-2zM774 655h1v1h-1zM632 562h1v1h-1zM626 558h1v1h-1zM679 593h2v1h-2zM844 701h2v1h-2zM702 608h1v1h-1zM755 643h2v1h-2zM613 550h2v1h-2zM633 563h2v1h-2zM687 598h1v1h-1zM740 633h2v1h-2zM829 691h1v1h-1zM763 648h2v1h-2zM621 555h1v1h-1zM674 590h2v1h-2zM817 683h1v1h-1zM769 652h2v1h-2zM627 559h2v1h-2zM736 630h1v1h-1zM676 591h1v1h-1zM729 626h2v1h-2zM661 581h1v1h-1zM714 616h2v1h-2zM752 641h2v1h-2zM806 676h1v1h-1zM664 583h1v1h-1zM717 618h2v1h-2zM737 631h2v1h-2zM791 666h1v1h-1zM648 573h2v1h-2zM725 623h1v1h-1zM778 658h2v1h-2zM772 654h2v1h-2zM630 561h2v1h-2zM650 574h1v1h-1zM703 609h2v1h-2zM677 592h2v1h-2zM731 627h2v1h-2zM726 624h2v1h-2zM780 659h1v1h-1zM638 566h1v1h-1zM691 601h2v1h-2zM833 694h2v1h-2zM765 649h1v1h-1zM768 651h1v1h-1zM821 686h2v1h-2zM699 606h1v1h-1zM823 687h1v1h-1zM681 594h1v1h-1zM754 642h1v1h-1zM612 549h1v1h-1zM639 567h2v1h-2zM693 602h1v1h-1zM742 634h1v1h-1zM673 589h1v1h-1zM748 638h1v1h-1zM803 674h1v1h-1zM797 670h1v1h-1zM655 577h1v1h-1zM667 585h1v1h-1zM809 678h1v1h-1zM716 617h1v1h-1zM743 635h2v1h-2zM722 621h1v1h-1zM846 702h1v1h-1zM710 613h1v1h-1zM783 661h1v1h-1zM641 568h1v1h-1zM852 706h1v1h-1zM690 600h1v1h-1zM629 560h1v1h-1zM832 693h1v1h-1zM840 698h1v1h-1zM835 695h1v1h-1zM820 685h1v1h-1zM684 596h1v1h-1zM826 689h1v1h-1zM615 551h1v1h-1zM733 628h1v1h-1zM618 553h1v1h-1zM814 681h1v1h-1zM722 637h1v1h-1zM667 701h1v1h-1zM744 612h1v1h-1zM662 707h1v1h-1zM705 657h1v1h-1zM663 706h1v1h-1zM718 642h1v1h-1zM740 617h1v1h-1zM701 662h1v1h-1zM646 726h1v1h-1zM659 711h1v1h-1zM661 708h1v1h-1zM703 659h1v1h-1zM716 644h1v1h-1zM752 603h1v1h-1zM697 667h1v1h-1zM642 731h1v1h-1zM644 728h1v1h-1zM657 713h1v1h-1zM699 664h1v1h-1zM754 600h1v1h-1zM695 669h1v1h-1zM640 733h1v1h-1zM696 668h1v1h-1zM641 732h1v1h-1zM738 619h1v1h-1zM753 601h1v1h-1zM656 714h1v1h-1zM679 688h1v1h-1zM694 670h1v1h-1zM736 621h1v1h-1zM749 606h1v1h-1zM652 719h1v1h-1zM709 652h1v1h-1zM710 651h1v1h-1zM732 626h1v1h-1zM690 675h1v1h-1zM650 721h1v1h-1zM706 656h1v1h-1zM651 720h1v1h-1zM748 607h1v1h-1zM673 695h1v1h-1zM689 676h1v1h-1zM647 725h1v1h-1zM649 722h1v1h-1zM702 661h1v1h-1zM704 658h1v1h-1zM746 609h1v1h-1zM685 681h1v1h-1zM643 730h1v1h-1zM645 727h1v1h-1zM687 678h1v1h-1zM700 663h1v1h-1zM742 614h1v1h-1zM743 613h1v1h-1zM683 683h1v1h-1zM739 618h1v1h-1zM684 682h1v1h-1zM686 679h1v1h-1zM740 616h1v1h-1zM741 615h1v1h-1zM667 702h1v1h-1zM682 684h1v1h-1zM724 635h1v1h-1zM737 620h1v1h-1zM752 602h1v1h-1zM697 666h1v1h-1zM655 715h1v1h-1zM698 665h1v1h-1zM720 640h1v1h-1zM678 689h1v1h-1zM733 625h1v1h-1zM661 709h1v1h-1zM719 641h1v1h-1zM721 638h1v1h-1zM747 608h1v1h-1zM692 672h1v1h-1zM693 671h1v1h-1zM715 646h1v1h-1zM730 628h1v1h-1zM688 677h1v1h-1zM731 627h1v1h-1zM691 673h1v1h-1zM726 633h1v1h-1zM671 697h1v1h-1zM727 632h1v1h-1zM672 696h1v1h-1zM674 693h1v1h-1zM728 630h1v1h-1zM729 629h1v1h-1zM669 699h1v1h-1zM725 634h1v1h-1zM670 698h1v1h-1zM643 729h1v1h-1zM708 654h1v1h-1zM666 703h1v1h-1zM721 639h1v1h-1zM681 685h1v1h-1zM665 704h1v1h-1zM735 622h1v1h-1zM680 686h1v1h-1zM703 660h1v1h-1zM648 724h1v1h-1zM676 691h1v1h-1zM733 624h1v1h-1zM677 690h1v1h-1zM679 687h1v1h-1zM734 623h1v1h-1zM714 647h1v1h-1zM660 710h1v1h-1zM675 692h1v1h-1zM717 643h1v1h-1zM655 716h1v1h-1zM713 648h1v1h-1zM658 712h1v1h-1zM673 694h1v1h-1zM715 645h1v1h-1zM751 604h1v1h-1zM709 653h1v1h-1zM654 717h1v1h-1zM711 650h1v1h-1zM712 649h1v1h-1zM727 631h1v1h-1zM685 680h1v1h-1zM707 655h1v1h-1zM750 605h1v1h-1zM653 718h1v1h-1zM723 636h1v1h-1zM668 700h1v1h-1zM745 611h1v1h-1zM746 610h1v1h-1zM691 674h1v1h-1zM649 723h1v1h-1zM664 705h1v1h-1zM776 733h2v1h-2zM765 730h3v1h-3zM768 731h4v1h-4zM761 729h4v1h-4zM772 732h4v1h-4zM760 728h1v1h-1zM849 731h1v1h-1zM849 733h1v1h-1zM849 730h1v1h-1zM848 728h1v1h-1zM849 729h1v1h-1zM849 732h1v1h-1zM914 553h6v1h-6zM932 550h6v1h-6zM938 549h6v1h-6zM926 551h6v1h-6zM944 548h6v1h-6zM911 554h3v1h-3zM950 547h3v1h-3zM920 552h6v1h-6zM896 435h2v1h-2zM1101 356h3v1h-3zM1018 388h2v1h-2zM987 400h2v1h-2zM838 457h3v1h-3zM963 409h3v1h-3zM1145 339h3v1h-3zM880 441h3v1h-3zM807 469h3v1h-3zM932 421h3v1h-3zM849 453h2v1h-2zM1054 374h3v1h-3zM1140 341h3v1h-3zM1023 386h3v1h-3zM875 443h2v1h-2zM844 455h2v1h-2zM1002 394h3v1h-3zM1156 335h2v1h-2zM1007 392h3v1h-3zM1059 372h3v1h-3zM1124 347h3v1h-3zM976 404h3v1h-3zM859 449h3v1h-3zM1028 384h3v1h-3zM945 416h3v1h-3zM1098 357h3v1h-3zM828 461h3v1h-3zM997 396h3v1h-3zM802 471h3v1h-3zM1130 345h2v1h-2zM1013 390h2v1h-2zM864 447h3v1h-3zM929 422h3v1h-3zM981 402h3v1h-3zM833 459h3v1h-3zM955 412h3v1h-3zM1114 351h3v1h-3zM1083 363h2v1h-2zM818 465h2v1h-2zM903 432h3v1h-3zM1109 353h2v1h-2zM1150 337h3v1h-3zM1078 365h2v1h-2zM812 467h3v1h-3zM1119 349h3v1h-3zM971 406h3v1h-3zM854 451h3v1h-3zM940 418h2v1h-2zM1093 359h3v1h-3zM1062 371h3v1h-3zM914 428h2v1h-2zM797 473h2v1h-2zM883 440h2v1h-2zM1041 379h3v1h-3zM924 424h3v1h-3zM898 434h3v1h-3zM950 414h3v1h-3zM867 446h3v1h-3zM919 426h3v1h-3zM836 458h2v1h-2zM1052 375h2v1h-2zM935 420h2v1h-2zM1020 387h3v1h-3zM1143 340h2v1h-2zM994 397h3v1h-3zM1036 381h3v1h-3zM846 454h3v1h-3zM1088 361h3v1h-3zM1005 393h2v1h-2zM909 430h2v1h-2zM974 405h2v1h-2zM825 462h3v1h-3zM877 442h3v1h-3zM1031 383h2v1h-2zM1117 350h2v1h-2zM1000 395h2v1h-2zM851 452h3v1h-3zM916 427h3v1h-3zM1158 334h2v1h-2zM1010 391h3v1h-3zM893 436h3v1h-3zM820 464h3v1h-3zM979 403h2v1h-2zM1132 344h3v1h-3zM862 448h2v1h-2zM831 460h2v1h-2zM1153 336h3v1h-3zM1070 368h2v1h-2zM1046 377h3v1h-3zM805 470h2v1h-2zM1015 389h3v1h-3zM1137 342h3v1h-3zM989 399h3v1h-3zM1106 354h3v1h-3zM958 411h3v1h-3zM841 456h3v1h-3zM927 423h2v1h-2zM968 407h3v1h-3zM942 417h3v1h-3zM911 429h3v1h-3zM885 439h3v1h-3zM1127 346h3v1h-3zM1096 358h2v1h-2zM1065 370h2v1h-2zM799 472h3v1h-3zM1039 380h2v1h-2zM922 425h2v1h-2zM1080 364h3v1h-3zM890 437h3v1h-3zM984 401h3v1h-3zM1049 376h3v1h-3zM901 433h2v1h-2zM870 445h2v1h-2zM1075 366h3v1h-3zM992 398h2v1h-2zM1085 362h3v1h-3zM937 419h3v1h-3zM906 431h3v1h-3zM966 408h2v1h-2zM1033 382h3v1h-3zM1072 367h3v1h-3zM1135 343h2v1h-2zM1104 355h2v1h-2zM961 410h2v1h-2zM823 463h2v1h-2zM1067 369h3v1h-3zM888 438h2v1h-2zM857 450h2v1h-2zM872 444h3v1h-3zM1057 373h2v1h-2zM1026 385h2v1h-2zM1148 338h2v1h-2zM815 466h3v1h-3zM1122 348h2v1h-2zM1091 360h2v1h-2zM953 413h2v1h-2zM810 468h2v1h-2zM1111 352h3v1h-3zM948 415h2v1h-2zM1044 378h2v1h-2zM796 474h1v1h-1zM1123 441h3v1h-3zM1126 440h4v1h-4zM1176 424h3v1h-3zM1225 408h3v1h-3zM1275 392h3v1h-3zM1278 391h3v1h-3zM1154 431h3v1h-3zM1157 430h3v1h-3zM1253 399h3v1h-3zM1305 382h4v1h-4zM1321 377h3v1h-3zM1299 384h3v1h-3zM1210 413h3v1h-3zM1309 381h3v1h-3zM1204 415h3v1h-3zM1256 398h3v1h-3zM1133 438h3v1h-3zM1185 421h3v1h-3zM1234 405h4v1h-4zM1284 389h3v1h-3zM1179 423h3v1h-3zM1231 406h3v1h-3zM1188 420h3v1h-3zM1182 422h3v1h-3zM1136 437h3v1h-3zM1111 445h3v1h-3zM1163 428h4v1h-4zM1213 412h3v1h-3zM1265 395h3v1h-3zM1312 380h3v1h-3zM1259 397h3v1h-3zM1114 444h3v1h-3zM1262 396h3v1h-3zM1315 379h3v1h-3zM1191 419h3v1h-3zM1241 403h3v1h-3zM1244 402h3v1h-3zM1290 387h3v1h-3zM1293 386h3v1h-3zM1238 404h3v1h-3zM1142 435h3v1h-3zM1170 426h3v1h-3zM1222 409h3v1h-3zM1271 393h4v1h-4zM1324 376h2v1h-2zM1117 443h3v1h-3zM1216 411h3v1h-3zM1268 394h3v1h-3zM1120 442h3v1h-3zM1173 425h3v1h-3zM1148 433h3v1h-3zM1151 432h3v1h-3zM1201 416h3v1h-3zM1250 400h3v1h-3zM1302 383h3v1h-3zM1194 418h3v1h-3zM1296 385h3v1h-3zM1130 439h3v1h-3zM1228 407h3v1h-3zM1281 390h3v1h-3zM1207 414h3v1h-3zM1160 429h3v1h-3zM1287 388h3v1h-3zM1139 436h3v1h-3zM1318 378h3v1h-3zM1167 427h3v1h-3zM1219 410h3v1h-3zM1145 434h3v1h-3zM1197 417h4v1h-4zM1247 401h3v1h-3zM1110 446h1v1h-1zM1346 370h4v1h-4zM1279 389h3v1h-3zM1325 376h3v1h-3zM1339 372h4v1h-4zM1304 382h3v1h-3zM1307 381h4v1h-4zM1321 377h4v1h-4zM1282 388h4v1h-4zM1375 362h3v1h-3zM1264 393h4v1h-4zM1257 395h4v1h-4zM1350 369h3v1h-3zM1378 361h4v1h-4zM1353 368h4v1h-4zM1335 373h4v1h-4zM1311 380h3v1h-3zM1314 379h4v1h-4zM1293 385h3v1h-3zM1272 391h3v1h-3zM1286 387h3v1h-3zM1268 392h4v1h-4zM1382 360h3v1h-3zM1385 359h4v1h-4zM1364 365h3v1h-3zM1296 384h4v1h-4zM1343 371h3v1h-3zM1357 367h3v1h-3zM1367 364h4v1h-4zM1254 396h3v1h-3zM1300 383h4v1h-4zM1275 390h4v1h-4zM1371 363h4v1h-4zM1328 375h4v1h-4zM1289 386h4v1h-4zM1261 394h3v1h-3zM1248 398h2v1h-2zM1360 366h4v1h-4zM1318 378h3v1h-3zM1332 374h3v1h-3zM1250 397h4v1h-4zM1389 358h1v1h-1zM1347 344h1v1h-1zM1346 342h1v1h-1zM1343 337h1v1h-1zM1351 350h1v1h-1zM1349 347h1v1h-1zM1348 345h1v1h-1zM1350 348h1v1h-1zM1345 340h1v1h-1zM1353 353h1v1h-1zM1347 343h1v1h-1zM1355 356h1v1h-1zM1352 351h1v1h-1zM1351 349h1v1h-1zM1354 354h1v1h-1zM1349 346h1v1h-1zM1357 359h1v1h-1zM1356 357h1v1h-1zM1358 360h1v1h-1zM1359 362h1v1h-1zM1353 352h1v1h-1zM1355 355h1v1h-1zM1343 338h1v1h-1zM1360 363h1v1h-1zM1357 358h1v1h-1zM1344 339h1v1h-1zM1359 361h1v1h-1zM1345 341h1v1h-1zM1241 451h1v1h-1zM1237 432h1v1h-1zM1238 437h1v1h-1zM1240 446h1v1h-1zM1242 455h1v1h-1zM1239 441h1v1h-1zM1241 453h1v1h-1zM1237 434h1v1h-1zM1241 450h1v1h-1zM1238 439h1v1h-1zM1237 431h1v1h-1zM1238 436h1v1h-1zM1240 445h1v1h-1zM1240 448h1v1h-1zM1242 454h1v1h-1zM1239 440h1v1h-1zM1239 443h1v1h-1zM1236 429h1v1h-1zM1241 449h1v1h-1zM1237 430h1v1h-1zM1241 452h1v1h-1zM1238 435h1v1h-1zM1237 433h1v1h-1zM1238 438h1v1h-1zM1240 444h1v1h-1zM1240 447h1v1h-1zM1242 456h1v1h-1zM1239 442h1v1h-1zM1236 428h1v1h-1zM1264 468h28v1h-28zM1104 493h41v1h-41zM1145 492h42v1h-42zM1084 494h20v1h-20zM1187 491h41v1h-41zM1228 490h21v1h-21zM1199 534h2v1h-2zM1192 531h2v1h-2zM1207 538h2v1h-2zM1196 533h3v1h-3zM1188 529h2v1h-2zM1201 535h2v1h-2zM1205 537h2v1h-2zM1194 532h2v1h-2zM1186 528h2v1h-2zM1209 539h2v1h-2zM1190 530h2v1h-2zM1185 527h1v1h-1zM1203 536h2v1h-2z"/>
</g>
<g>
<text x="61.5 69.25 77.25 85.25" y="12">2400</text>
<text x="165.5 173.5 181.25 189.25" y="12">2200</text>
<text x="279.5 287.25 295.25 303.25" y="12">2000</text>
<text x="405.5 414.25 422.25 430.25" y="12">1800</text>
<text x="546.5 555 563.25 571.25" y="12">1600</text>
<text x="706.5 715.25 723.25 731.25" y="12">1400</text>
<text x="891.5 900.5 908.25 916.25" y="12">1200</text>
<text x="1110.5 1119.25 1127.25 1135.25" y="12">1000</text>
<text x="1379.25 1387.25 1395.25" y="12">800</text>
<text x="1.5 9.25 17.25" y="152">300</text>
<text x="1.25 9.25 17.25" y="307">400</text>
<text x="1.25 9.25 17.25" y="427">500</text>
<text x="1 9.25 17.25" y="525">600</text>
<text x="1.25 9.25 17.25" y="607">700</text>
<text x="1.25 9.25 17.25" y="679">800</text>
<text x="1.25 9.25 17.25" y="742">900</text>
<text x="0.5 9.25 17.25 25.25" y="799">1000</text>
<text x="124.75 127.5" y="115">i:</text>
<text x="156.75 160.5" y="187">i@</text>
<text x="191.75 195.5 208.5" y="262">i@3</text>
<text x="264.75 268.5" y="285">I2</text>
<text x="200.75" y="328">I</text>
<text x="294.25" y="377">e</text>
<text x="294.25 301.75" y="387">eI</text>
<text x="294.25 301.5" y="397">e:</text>
<text x="606.25 613.5" y="207">u:</text>
<text x="1295.25" y="187">u</text>
<text x="618.25 626.25" y="422" fill="#626288">n-</text>
<text x="618.25 626.25" y="432">n-</text>
<text x="728.5 735.5" y="405">3:</text>
<text x="700.5" y="427">3</text>
<text x="676.5" y="453">@</text>
<text x="676.5 689.25" y="463">@-</text>
<text x="676.5" y="480" fill="#626288">@</text>
<text x="762.75 766" y="472">IR</text>
<text x="423.75" y="565">E</text>
<text x="424.25 432.5" y="575">e@</text>
<text x="579.5 587" y="576">aU</text>
<text x="703.5 711" y="574">a#</text>
<text x="915 923" y="566">VR</text>
<text x="745.5 752.75" y="718">aI</text>
<text x="856.5 863.75 867.5" y="718">aI@</text>
<text x="644.5 652 661.5" y="745">aU@</text>
<text x="781.5" y="745">a</text>
<text x="781.5 789.5" y="755">aa</text>
<text x="853 860.5" y="745">A:</text>
<text x="853 861.5" y="755">A@</text>
<text x="1163 1172.5" y="346">U@</text>
<text x="1238" y="364">U</text>
<text x="1153" y="401">V</text>
<text x="1252.5 1264.75" y="410">@L</text>
<text x="1328.75" y="388">O</text>
<text x="1364.25 1372" y="375">oU</text>
<text x="1364.25 1371.5" y="385">o:</text>
<text x="1294.75 1303.5" y="439">O:</text>
<text x="1411.75 1420.75" y="473">OI</text>
<text x="1245.75 1255" y="468">O~</text>
<text x="1295.25" y="480">o</text>
<text x="1114 1122" y="517">A~</text>
<text x="1251.75 1261.5" y="502">O@</text>
<text x="1252.25 1260.5" y="512">o@</text>
<text x="1214.25" y="551">0</text>
</g>
</svg></body></html>
